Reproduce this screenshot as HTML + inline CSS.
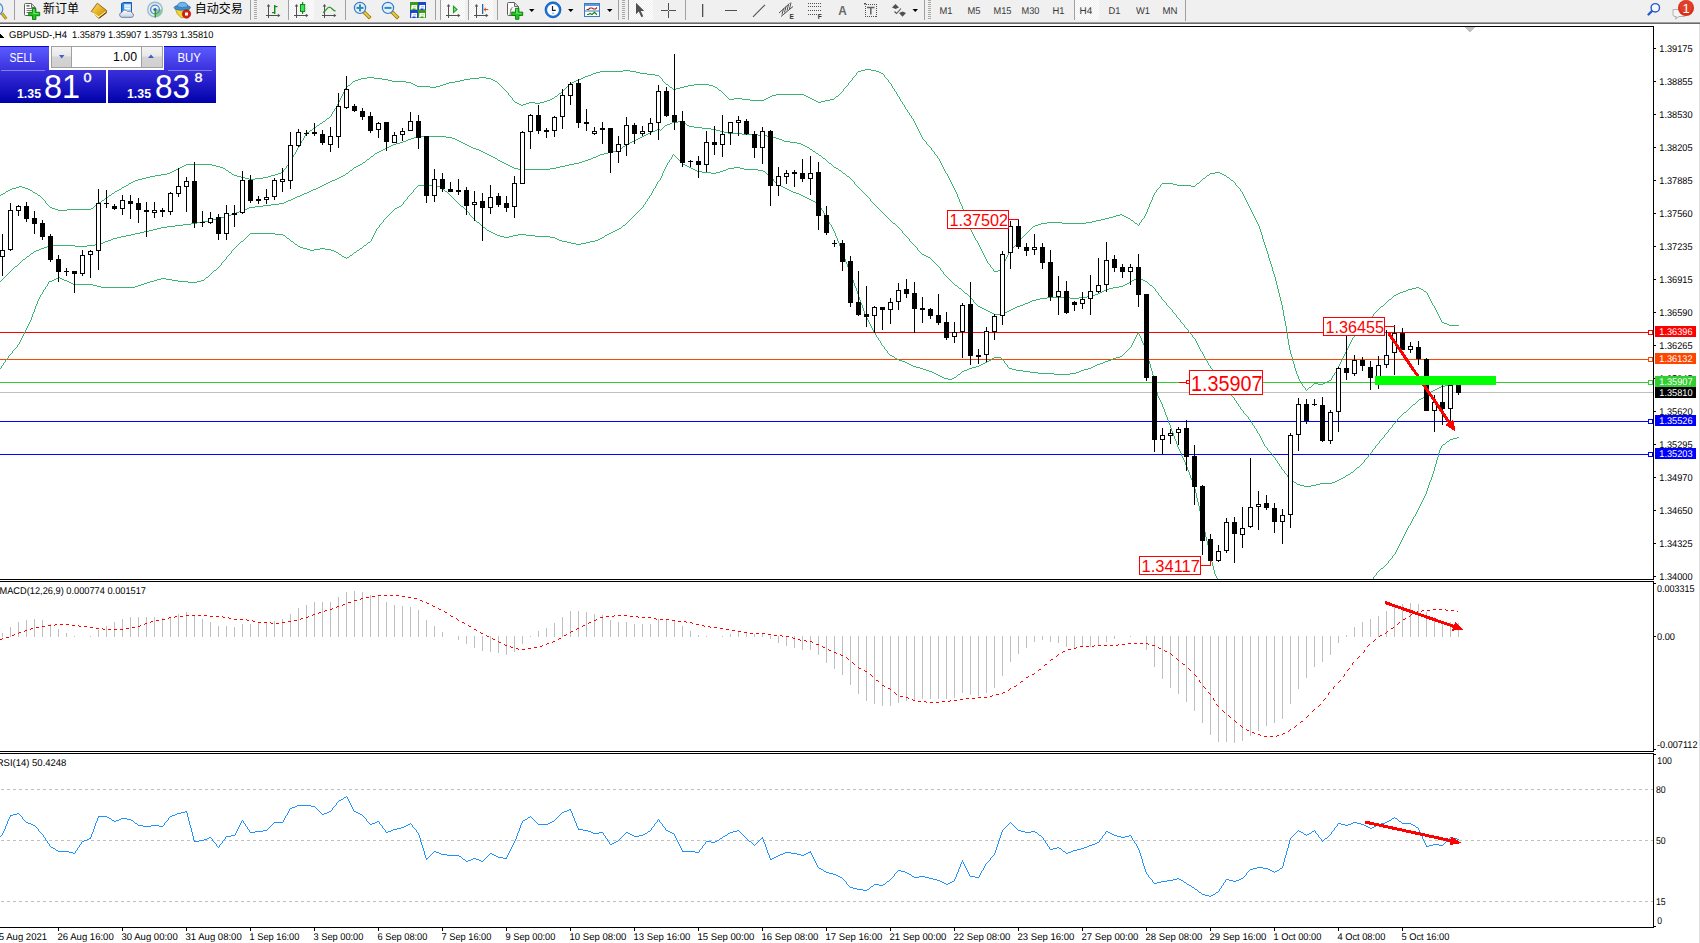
<!DOCTYPE html>
<html><head><meta charset="utf-8"><title>GBPUSD-,H4</title>
<style>
html,body{margin:0;padding:0;background:#fff;}
body{width:1700px;height:943px;overflow:hidden;position:relative;font-family:"Liberation Sans", "Noto Sans CJK SC", sans-serif;}
.abs{position:absolute;display:block;overflow:hidden}
</style></head><body>
<div class="abs" style="left:0;top:0;width:1700px;height:22px;background:#f0f0f0"></div><div class="abs" style="left:0;top:22px;width:1700px;height:1px;background:#a0a0a0"></div><div class="abs" style="left:0;top:23px;width:1700px;height:1px;background:#696969"></div><svg class="abs" style="left:0;top:0" width="1700" height="24" font-family='"Liberation Sans", "Noto Sans CJK SC", sans-serif'><defs><pattern id="chk" width="2" height="2" patternUnits="userSpaceOnUse"><rect width="2" height="2" fill="#f0f0f0"/><rect width="1" height="1" fill="#fff"/><rect x="1" y="1" width="1" height="1" fill="#fff"/></pattern></defs><line x1="2" y1="13.5" x2="6.3" y2="18.8" stroke="#9a7410" stroke-width="2.8"/><line x1="2" y1="13.5" x2="6.3" y2="18.8" stroke="#e0c030" stroke-width="1.4"/><circle cx="-3.5" cy="9" r="6.3" fill="#dcecf8" stroke="#5088c8" stroke-width="1.2"/><rect x="14" y="0" width="1" height="20" fill="#a0a0a0"/><path d="M25.5,3.5h6l4,4v7q0,1 -1,1h-9q-1,0 -1,-1v-10q0,-1 1,-1z" fill="#fdfdfd" stroke="#5e5e5e" stroke-width="1"/><path d="M31.5,3.8v3.7h3.7" fill="#dcdcdc" stroke="#5e5e5e" stroke-width=".9"/><rect x="26.5" y="5" width="3" height="1.6" fill="#6a6a6a"/><rect x="26.5" y="8" width="6" height="1" fill="#7a7a7a"/><rect x="26.5" y="10" width="6" height="1" fill="#7a7a7a"/><rect x="26.5" y="12" width="6" height="1" fill="#7a7a7a"/><path d="M32.5,8.5h3.4v3.8h3.8v3.4h-3.8v3.8h-3.4v-3.8h-3.8v-3.4h3.8z" fill="#22c322" stroke="#0a7a0a" stroke-width=".9"/><path d="M33.1,9.2h1.4v3.8h3.8v1h-5.2z" fill="#8af08a" opacity=".7"/><text x="43" y="13.2" font-size="12" fill="#000">新订单</text><defs><linearGradient id="gold" x1="0" y1="0" x2="1" y2="1"><stop offset="0" stop-color="#fbe27a"/><stop offset=".55" stop-color="#e2ae1c"/><stop offset="1" stop-color="#b87c08"/></linearGradient></defs><path d="M91.3,11.4 L97.3,3.2 L106.7,10.6 L106.4,12.6 L98.9,18.3 Z" fill="url(#gold)" stroke="#8a5c0a" stroke-width=".9"/><path d="M92.2,12.6 L98.8,17 L105.8,11.8" fill="none" stroke="#fff2b8" stroke-width="1.1"/><path d="M99.2,18 L106.4,12.5" fill="none" stroke="#7a4c06" stroke-width="1.2"/><path d="M121.5,3.5 L124,2.5 L131.5,2.5 L131.5,13 L121.5,13 Z" fill="#2a8ae8" stroke="#1a5ab0" stroke-width="1"/><rect x="124" y="4" width="7" height="8" fill="#b8dcfa"/><rect x="125" y="5.5" width="5" height="1" fill="#fff"/><rect x="125" y="8" width="5" height="1" fill="#fff"/><defs><linearGradient id="cl" x1="0" y1="0" x2="0" y2="1"><stop offset="0" stop-color="#ffffff"/><stop offset="1" stop-color="#c4d0e6"/></linearGradient></defs><path d="M121.5,17.3 a2.5,2.5 0 0 1 0.3,-4.9 a3.3,3.3 0 0 1 6,-0.8 a2.8,2.8 0 0 1 4.3,1.5 a2.2,2.2 0 0 1 -0.3,4.2 z" fill="url(#cl)" stroke="#6c7ea8" stroke-width="1"/><circle cx="155" cy="9.5" r="7.3" fill="#e4f0e4" stroke="#9ab8d8" stroke-width="1.4"/><path d="M155,9.5 L155,17 A7.3,7.3 0 0 0 162.3,9.5 Z" fill="#8acc8a"/><circle cx="155" cy="9.5" r="4.4" fill="none" stroke="#5a86d0" stroke-width="1.3"/><circle cx="155" cy="9.5" r="1.6" fill="#2a5ac8"/><rect x="154.6" y="10" width="1.4" height="7.5" fill="#20a020"/><path d="M175.3,8.5 Q176,14 181,17.6 L184,17.6 Q188.5,14 189.5,8.5 Z" fill="#f2d43a" stroke="#b89414" stroke-width=".8"/><ellipse cx="182.3" cy="7.6" rx="8.2" ry="2.6" fill="#3f8fd2" stroke="#2a6aa8" stroke-width=".8"/><path d="M177.3,6.8 Q177.5,2.3 182.5,2.3 Q187.5,2.3 187.8,6.8 Q182.5,8.6 177.3,6.8 z" fill="#6cb6ea" stroke="#2a6aa8" stroke-width=".7"/><circle cx="186.5" cy="14" r="4.2" fill="#d82010" stroke="#a01008" stroke-width=".6"/><rect x="185" y="12.5" width="3" height="3" fill="#fff"/><text x="194.8" y="13.2" font-size="12" fill="#000">自动交易</text><rect x="250" y="0" width="1" height="20" fill="#a0a0a0"/><rect x="254" y="0" width="3" height="1" fill="#a8a8a8"/><rect x="254" y="2" width="3" height="1" fill="#a8a8a8"/><rect x="254" y="4" width="3" height="1" fill="#a8a8a8"/><rect x="254" y="6" width="3" height="1" fill="#a8a8a8"/><rect x="254" y="8" width="3" height="1" fill="#a8a8a8"/><rect x="254" y="10" width="3" height="1" fill="#a8a8a8"/><rect x="254" y="12" width="3" height="1" fill="#a8a8a8"/><rect x="254" y="14" width="3" height="1" fill="#a8a8a8"/><rect x="254" y="16" width="3" height="1" fill="#a8a8a8"/><rect x="254" y="18" width="3" height="1" fill="#a8a8a8"/><rect x="268" y="5" width="1" height="13" fill="#505050"/><polygon points="266.7,6.6 268.5,4 270.3,6.6" fill="#505050"/><rect x="266" y="15" width="13" height="1" fill="#505050"/><polygon points="277.8,13.7 280.4,15.5 277.8,17.3" fill="#505050"/><rect x="274" y="5" width="1.4" height="9" fill="#108a10"/><rect x="275" y="6" width="2.5" height="1.2" fill="#108a10"/><rect x="272" y="12" width="2.5" height="1.2" fill="#108a10"/><rect x="288" y="0" width="1" height="20" fill="#a0a0a0"/><rect x="289" y="0" width="25" height="20" fill="url(#chk)" shape-rendering="crispEdges"/><rect x="296" y="5" width="1" height="13" fill="#505050"/><polygon points="294.7,6.6 296.5,4 298.3,6.6" fill="#505050"/><rect x="294" y="15" width="13" height="1" fill="#505050"/><polygon points="305.8,13.7 308.4,15.5 305.8,17.3" fill="#505050"/><rect x="302" y="2" width="1.2" height="12" fill="#108a10"/><rect x="300.5" y="4.5" width="4.2" height="7" fill="#40e060" stroke="#108a10" stroke-width="1"/><rect x="324" y="5" width="1" height="13" fill="#505050"/><polygon points="322.7,6.6 324.5,4 326.3,6.6" fill="#505050"/><rect x="322" y="15" width="13" height="1" fill="#505050"/><polygon points="333.8,13.7 336.4,15.5 333.8,17.3" fill="#505050"/><path d="M323,12.6 C326,11 327,7.2 329.5,7.2 C331.5,7.2 332.5,10.5 335.5,11" fill="none" stroke="#2a9a2a" stroke-width="1.3"/><rect x="345" y="0" width="1" height="20" fill="#a0a0a0"/><line x1="364" y1="11.9" x2="369" y2="16.9" stroke="#9a7410" stroke-width="3.6" stroke-linecap="square"/><line x1="364" y1="11.9" x2="369" y2="16.9" stroke="#e8cc30" stroke-width="2" stroke-linecap="square"/><circle cx="360" cy="7.9" r="5.6" fill="#dcf2fc" stroke="#3878c8" stroke-width="1.2"/><rect x="356.5" y="6.9" width="7" height="2" fill="#3a86b4"/><rect x="359" y="4.4" width="2" height="7" fill="#3a86b4"/><line x1="392" y1="11.9" x2="397" y2="16.9" stroke="#9a7410" stroke-width="3.6" stroke-linecap="square"/><line x1="392" y1="11.9" x2="397" y2="16.9" stroke="#e8cc30" stroke-width="2" stroke-linecap="square"/><circle cx="388" cy="7.9" r="5.6" fill="#dcf2fc" stroke="#3878c8" stroke-width="1.2"/><rect x="384.5" y="6.9" width="7" height="2" fill="#3a86b4"/><rect x="410" y="2" width="8" height="8" fill="#3a9a1a"/><path d="M411.5,5h5.5v4.5h-1.5v-1h-3v1h-1.5z" fill="#fff"/><rect x="413" y="6.3" width="3" height="1" fill="#3a9a1a" opacity=".45"/><rect x="418" y="2" width="8" height="8" fill="#1a48c8"/><path d="M419.5,5h5.5v4.5h-1.5v-1h-3v1h-1.5z" fill="#fff"/><rect x="421" y="6.3" width="3" height="1" fill="#1a48c8" opacity=".45"/><rect x="410" y="10" width="8" height="8" fill="#1a48c8"/><path d="M411.5,13h5.5v4.5h-1.5v-1h-3v1h-1.5z" fill="#fff"/><rect x="413" y="14.3" width="3" height="1" fill="#1a48c8" opacity=".45"/><rect x="418" y="10" width="8" height="8" fill="#3a9a1a"/><path d="M419.5,13h5.5v4.5h-1.5v-1h-3v1h-1.5z" fill="#fff"/><rect x="421" y="14.3" width="3" height="1" fill="#3a9a1a" opacity=".45"/><rect x="435" y="0" width="1" height="20" fill="#a0a0a0"/><rect x="440" y="0" width="1" height="20" fill="#a0a0a0"/><rect x="441" y="0" width="24" height="20" fill="url(#chk)" shape-rendering="crispEdges"/><rect x="448" y="5" width="1" height="13" fill="#505050"/><polygon points="446.7,6.6 448.5,4 450.3,6.6" fill="#505050"/><rect x="446" y="15" width="13" height="1" fill="#505050"/><polygon points="457.8,13.7 460.4,15.5 457.8,17.3" fill="#505050"/><polygon points="453.5,6.3 453.5,12.6 457,9.5" fill="#90e090" stroke="#18a018" stroke-width="1.1"/><rect x="468" y="0" width="1" height="20" fill="#a0a0a0"/><rect x="469" y="0" width="24" height="20" fill="url(#chk)" shape-rendering="crispEdges"/><rect x="476" y="5" width="1" height="13" fill="#505050"/><polygon points="474.7,6.6 476.5,4 478.3,6.6" fill="#505050"/><rect x="474" y="15" width="13" height="1" fill="#505050"/><polygon points="485.8,13.7 488.4,15.5 485.8,17.3" fill="#505050"/><rect x="482" y="4" width="1.3" height="10" fill="#1a6ab0"/><polygon points="483.5,9.5 486,7.3 485.7,9 488.3,9 488.3,10 485.7,10 486,11.7" fill="#e05010"/><rect x="497" y="0" width="1" height="20" fill="#a0a0a0"/><path d="M508.5,2.5h6l4,4v8q0,1 -1,1h-9q-1,0 -1,-1v-11q0,-1 1,-1z" fill="#fdfdfd" stroke="#5e5e5e" stroke-width="1"/><path d="M514.5,2.8v3.7h3.7" fill="#dcdcdc" stroke="#5e5e5e" stroke-width=".9"/><text x="509.5" y="12.5" font-size="9" font-style="italic" font-family="Liberation Serif, serif" fill="#5a4a3a">f</text><path d="M515.5,8.3h3.4v3.8h3.8v3.4h-3.8v3.8h-3.4v-3.8h-3.8v-3.4h3.8z" fill="#22c322" stroke="#0a7a0a" stroke-width=".9"/><path d="M516.1,9.0h1.4v3.8h3.8v1h-5.2z" fill="#8af08a" opacity=".7"/><polygon points="529,9 534.5,9 531.75,12" fill="#000"/><circle cx="553" cy="9.8" r="7" fill="#fff" stroke="#1a74d8" stroke-width="2.2"/><circle cx="553" cy="9.8" r="8" fill="none" stroke="#0a4aa8" stroke-width=".6"/><path d="M552.5,6 v4.3 h3.2" fill="none" stroke="#202020" stroke-width="1.2"/><circle cx="553" cy="13.3" r=".8" fill="#4aa0f0"/><polygon points="568,9 573.5,9 570.75,12" fill="#000"/><rect x="584.5" y="3.5" width="15" height="13" fill="#fff" stroke="#3a78c8" stroke-width="1"/><rect x="585" y="4" width="14" height="2" fill="#5a98e0"/><rect x="585" y="10.5" width="14" height="1" fill="#3a78c8"/><path d="M586.5,9.5 h2 l1.5,-1.5 h2 l1.5,1 h2 l1.5,-1.5" fill="none" stroke="#a02010" stroke-width="1.2"/><path d="M587,14.5 h1.5 l1.5,-1 l2,1 l2.5,-2.2 l2.5,2.4" fill="none" stroke="#108a10" stroke-width="1.2"/><polygon points="607,9 612.5,9 609.75,12" fill="#000"/><rect x="618" y="0" width="1" height="20" fill="#a0a0a0"/><rect x="622" y="0" width="3" height="1" fill="#a8a8a8"/><rect x="622" y="2" width="3" height="1" fill="#a8a8a8"/><rect x="622" y="4" width="3" height="1" fill="#a8a8a8"/><rect x="622" y="6" width="3" height="1" fill="#a8a8a8"/><rect x="622" y="8" width="3" height="1" fill="#a8a8a8"/><rect x="622" y="10" width="3" height="1" fill="#a8a8a8"/><rect x="622" y="12" width="3" height="1" fill="#a8a8a8"/><rect x="622" y="14" width="3" height="1" fill="#a8a8a8"/><rect x="622" y="16" width="3" height="1" fill="#a8a8a8"/><rect x="622" y="18" width="3" height="1" fill="#a8a8a8"/><rect x="628" y="0" width="1" height="20" fill="#a0a0a0"/><rect x="629" y="0" width="24" height="20" fill="url(#chk)" shape-rendering="crispEdges"/><polygon points="636,2.8 636,14.2 638.8,11.6 641.4,17.2 643.3,16.3 640.7,10.9 644.3,10.9" fill="#505050"/><rect x="661" y="10" width="7" height="1" fill="#505050"/><rect x="669" y="10" width="7" height="1" fill="#505050"/><rect x="668" y="3" width="1" height="7" fill="#505050"/><rect x="668" y="11" width="1" height="7" fill="#505050"/><rect x="685" y="0" width="1" height="20" fill="#a0a0a0"/><rect x="702" y="4" width="1.3" height="13" fill="#505050"/><rect x="725" y="10" width="12" height="1" fill="#505050"/><line x1="753" y1="16.8" x2="765" y2="4.8" stroke="#505050" stroke-width="1.1"/><path d="M779,13 L789.5,3.5 M781,16.5 L793,6.5" fill="none" stroke="#505050" stroke-width="1"/><path d="M782,14.5 L783.5,8.5 M784.5,12.5 L786,6.5 M787,10.5 L788.5,4.5 M789.5,9 L791,2.5" fill="none" stroke="#505050" stroke-width="1"/><text x="789.5" y="18.6" font-size="6.5" font-weight="bold" fill="#303030">E</text><line x1="808" y1="3.5" x2="821" y2="3.5" stroke="#505050" stroke-width="1" stroke-dasharray="1 1"/><line x1="808" y1="6.5" x2="821" y2="6.5" stroke="#505050" stroke-width="1" stroke-dasharray="1 1"/><line x1="808" y1="10.5" x2="821" y2="10.5" stroke="#505050" stroke-width="1" stroke-dasharray="1 1"/><line x1="808" y1="14.5" x2="817" y2="14.5" stroke="#505050" stroke-width="1" stroke-dasharray="1 1"/><text x="817.8" y="18.6" font-size="6.5" font-weight="bold" fill="#303030">F</text><text x="838.3" y="15" font-size="12.5" font-weight="bold" fill="#686868" textLength="8.5" lengthAdjust="spacingAndGlyphs">A</text><rect x="865.5" y="4.5" width="11" height="12" fill="none" stroke="#505050" stroke-width="1" stroke-dasharray="1 1" shape-rendering="crispEdges"/><rect x="864" y="3" width="2" height="1.5" fill="#505050"/><path d="M867,7.5h7.5 M870.8,7.5v7" stroke="#606060" stroke-width="1.5" fill="none"/><polygon points="892,7.5 895.5,4 899,7.5 895.5,9" fill="#505050"/><polygon points="899,13 902.5,11.5 906,13 902.5,16.8" fill="#505050"/><path d="M894.5,11.5 L896.5,13.5 L901,8.5" fill="none" stroke="#505050" stroke-width="1.1"/><polygon points="912.5,9 918.0,9 915.25,12" fill="#000"/><rect x="924" y="0" width="1" height="20" fill="#a0a0a0"/><rect x="928" y="0" width="3" height="1" fill="#a8a8a8"/><rect x="928" y="2" width="3" height="1" fill="#a8a8a8"/><rect x="928" y="4" width="3" height="1" fill="#a8a8a8"/><rect x="928" y="6" width="3" height="1" fill="#a8a8a8"/><rect x="928" y="8" width="3" height="1" fill="#a8a8a8"/><rect x="928" y="10" width="3" height="1" fill="#a8a8a8"/><rect x="928" y="12" width="3" height="1" fill="#a8a8a8"/><rect x="928" y="14" width="3" height="1" fill="#a8a8a8"/><rect x="928" y="16" width="3" height="1" fill="#a8a8a8"/><rect x="928" y="18" width="3" height="1" fill="#a8a8a8"/><rect x="1075" y="0" width="24" height="20" fill="url(#chk)" shape-rendering="crispEdges"/><rect x="1074" y="0" width="1" height="20" fill="#a0a0a0"/><text x="939.5" y="13.6" font-size="9.8" text-rendering="geometricPrecision" fill="#383838" textLength="13" lengthAdjust="spacingAndGlyphs">M1</text><text x="967.5" y="13.6" font-size="9.8" text-rendering="geometricPrecision" fill="#383838" textLength="13" lengthAdjust="spacingAndGlyphs">M5</text><text x="993.5" y="13.6" font-size="9.8" text-rendering="geometricPrecision" fill="#383838" textLength="18" lengthAdjust="spacingAndGlyphs">M15</text><text x="1021.5" y="13.6" font-size="9.8" text-rendering="geometricPrecision" fill="#383838" textLength="18" lengthAdjust="spacingAndGlyphs">M30</text><text x="1052.5" y="13.6" font-size="9.8" text-rendering="geometricPrecision" fill="#383838" textLength="12" lengthAdjust="spacingAndGlyphs">H1</text><text x="1079.5" y="13.6" font-size="9.8" text-rendering="geometricPrecision" fill="#383838" textLength="12.7" lengthAdjust="spacingAndGlyphs">H4</text><text x="1108.5" y="13.6" font-size="9.8" text-rendering="geometricPrecision" fill="#383838" textLength="12" lengthAdjust="spacingAndGlyphs">D1</text><text x="1136" y="13.6" font-size="9.8" text-rendering="geometricPrecision" fill="#383838" textLength="14" lengthAdjust="spacingAndGlyphs">W1</text><text x="1162.5" y="13.6" font-size="9.8" text-rendering="geometricPrecision" fill="#383838" textLength="15" lengthAdjust="spacingAndGlyphs">MN</text><rect x="1185" y="0" width="1" height="21" fill="#a0a0a0"/><line x1="1648.5" y1="14.5" x2="1652" y2="11" stroke="#2a5ac8" stroke-width="2.4" stroke-linecap="round"/><circle cx="1655.3" cy="7.8" r="4.2" fill="#f4f8fc" stroke="#2a5ac8" stroke-width="1.4"/><path d="M1673,9.5 h11 a2,2 0 0 1 2,2 v3 a2,2 0 0 1 -2,2 h-5 l-3.5,2.5 l.8,-2.5 h-1.3 a2,2 0 0 1 -2,-2 z" fill="#f4f4f4" stroke="#b0b0b0" stroke-width="1"/><circle cx="1686" cy="8" r="8" fill="#d83018"/><circle cx="1686" cy="6.5" r="6.5" fill="#e85038" opacity=".5"/><text x="1686" y="12.8" font-size="13" fill="#fff" text-anchor="middle">1</text></svg>
<svg class="abs" style="left:0;top:27px" width="1653" height="552" viewBox="0 27 1653 552" shape-rendering="crispEdges"><rect x="0" y="332" width="1653" height="1" fill="#ff0000"/><rect x="0" y="359" width="1653" height="1" fill="#ff4500"/><rect x="0" y="382" width="1653" height="1" fill="#32cd32"/><rect x="0" y="392" width="1653" height="1" fill="#c0c0c0"/><rect x="0" y="421" width="1653" height="1" fill="#0000ff"/><rect x="0" y="454" width="1653" height="1" fill="#0000ff"/><path d="M361 78h6v1h-6zM374 78h8v1h-8zM470 78h9v1h-9zM486 78h5v1h-5zM581 78h2v1h-2zM661 78h1v1h-1zM852 78h1v2h-1zM886 78h1v1h-1zM1288 339h1v6h-1zM1351 340h1v2h-1zM186 164h26v1h-26zM288 164h1v1h-1zM941 163h1v2h-1zM981 249h1v2h-1zM1011 249h1v2h-1zM1266 248h1v3h-1zM351 83h1v1h-1zM411 83h2v1h-2zM446 83h3v1h-3zM498 83h1v1h-1zM570 83h2v1h-2zM665 83h1v1h-1zM848 83h1v2h-1zM890 83h1v1h-1zM3 193h2v1h-2zM35 193h2v1h-2zM112 193h2v1h-2zM956 192h1v2h-1zM1154 193h1v2h-1zM1242 192h1v2h-1zM1 194h2v1h-2zM37 194h1v1h-1zM111 194h1v1h-1zM957 194h1v3h-1zM1243 194h1v2h-1zM1276 281h1v4h-1zM1303 386h1v1h-1zM1311 386h1v1h-1zM161 174h6v1h-6zM232 174h2v1h-2zM275 174h3v1h-3zM947 174h1v2h-1zM1209 174h1v1h-1zM1222 174h2v1h-2zM1296 371h1v3h-1zM1334 373h1v2h-1zM309 131h1v1h-1zM919 131h1v2h-1zM341 96h1v2h-1zM510 96h1v1h-1zM555 96h2v1h-2zM726 96h1v1h-1zM770 96h2v1h-2zM806 96h2v1h-2zM836 96h2v1h-2zM898 96h1v1h-1zM1282 305h1v5h-1zM1381 306h2v1h-2zM1434 306h1v2h-1zM1279 293h1v4h-1zM1398 293h2v1h-2zM1427 293h1v2h-1zM970 227h1v3h-1zM1031 228h1v1h-1zM1259 226h1v3h-1zM10 189h2v1h-2zM28 189h2v1h-2zM119 189h2v1h-2zM954 188h1v2h-1zM1157 189h1v1h-1zM1240 189h1v2h-1zM340 98h1v2h-1zM512 98h1v2h-1zM550 99h2v1h-2zM729 99h5v1h-5zM742 99h8v1h-8zM764 99h2v1h-2zM812 99h2v1h-2zM830 99h4v1h-4zM900 99h1v2h-1zM968 222h1v3h-1zM1047 222h15v1h-15zM1086 222h6v1h-6zM1134 222h1v1h-1zM1140 222h1v1h-1zM1257 222h1v2h-1zM1299 379h1v2h-1zM1329 380h2v1h-2zM623 70h7v1h-7zM861 70h4v1h-4zM871 70h5v1h-5zM343 92h1v2h-1zM507 92h1v1h-1zM561 92h1v1h-1zM722 92h1v1h-1zM841 92h1v1h-1zM896 92h1v2h-1zM367 77h7v1h-7zM479 77h7v1h-7zM583 77h2v1h-2zM660 77h1v1h-1zM853 77h1v1h-1zM885 77h1v1h-1zM293 155h1v2h-1zM937 156h1v2h-1zM338 102h1v2h-1zM515 102h2v1h-2zM529 102h6v1h-6zM540 102h4v1h-4zM818 102h3v1h-3zM902 102h1v2h-1zM350 84h1v1h-1zM413 84h2v1h-2zM443 84h3v1h-3zM499 84h1v1h-1zM569 84h1v1h-1zM666 84h2v1h-2zM694 84h15v1h-15zM891 84h1v2h-1zM1300 381h1v2h-1zM1325 382h2v1h-2zM339 100h1v2h-1zM513 100h1v1h-1zM547 100h3v1h-3zM750 100h14v1h-14zM814 100h2v1h-2zM825 100h5v1h-5zM1283 310h1v6h-1zM1373 314h1v2h-1zM1438 314h1v2h-1zM600 71h23v1h-23zM630 71h6v1h-6zM858 71h3v1h-3zM876 71h3v1h-3zM355 80h3v1h-3zM388 80h4v1h-4zM460 80h4v1h-4zM493 80h2v1h-2zM576 80h3v1h-3zM662 79h1v2h-1zM851 80h1v1h-1zM888 80h1v2h-1zM347 86h1v1h-1zM417 86h13v1h-13zM436 86h4v1h-4zM501 86h1v1h-1zM567 86h1v1h-1zM669 86h1v1h-1zM684 86h4v1h-4zM713 86h2v1h-2zM846 86h1v1h-1zM892 86h1v2h-1zM552 98h2v1h-2zM728 98h1v1h-1zM734 98h8v1h-8zM766 98h2v1h-2zM810 98h2v1h-2zM834 98h1v1h-1zM899 97h1v2h-1zM337 104h1v2h-1zM519 104h2v1h-2zM523 104h3v1h-3zM903 104h1v1h-1zM142 178h4v1h-4zM245 178h4v1h-4zM255 178h8v1h-8zM949 178h1v2h-1zM1203 178h2v1h-2zM1229 178h1v1h-1zM353 81h2v1h-2zM392 81h14v1h-14zM455 81h5v1h-5zM495 81h2v1h-2zM574 81h2v1h-2zM663 81h1v1h-1zM850 81h1v1h-1zM991 267h1v1h-1zM1001 267h1v2h-1zM1272 267h1v4h-1zM966 217h1v2h-1zM1105 218h4v1h-4zM1128 218h2v1h-2zM1143 218h1v1h-1zM1255 218h1v2h-1zM591 74h2v1h-2zM647 74h8v1h-8zM856 73h1v2h-1zM883 74h1v1h-1zM1287 332h1v7h-1zM1354 336h1v1h-1zM588 75h3v1h-3zM655 75h4v1h-4zM855 75h1v1h-1zM884 75h1v2h-1zM965 214h1v3h-1zM1116 215h4v1h-4zM1122 215h2v1h-2zM1145 214h1v2h-1zM1253 214h1v2h-1zM1275 277h1v4h-1zM1280 297h1v4h-1zM1389 299h2v1h-2zM1430 299h1v2h-1zM45 201h1v2h-1zM99 202h2v1h-2zM960 202h1v2h-1zM1150 202h1v2h-1zM1247 202h1v2h-1zM329 117h1v1h-1zM911 116h1v2h-1zM988 263h1v1h-1zM1003 263h1v2h-1zM1270 261h1v3h-1zM1038 224h3v1h-3zM1137 224h1v1h-1zM1139 223h1v2h-1zM1258 224h1v2h-1zM1375 312h1v1h-1zM1437 312h1v2h-1zM508 93h1v2h-1zM559 93h2v1h-2zM723 93h1v1h-1zM840 93h1v1h-1zM1285 321h1v5h-1zM1363 325h1v1h-1zM1449 325h10v1h-10zM1113 216h3v1h-3zM1124 216h2v1h-2zM1144 216h1v2h-1zM1254 216h1v2h-1zM993 269h1v2h-1zM998 270h3v1h-3zM1350 342h1v2h-1zM1335 372h1v1h-1zM42 198h1v1h-1zM105 198h2v1h-2zM958 197h1v2h-1zM1152 197h1v3h-1zM1245 198h1v2h-1zM128 184h1v1h-1zM952 184h1v2h-1zM1161 184h1v1h-1zM1173 184h4v1h-4zM1196 184h1v1h-1zM1235 183h1v2h-1zM315 127h1v1h-1zM917 127h1v2h-1zM52 208h3v1h-3zM91 208h2v1h-2zM962 206h1v3h-1zM1148 207h1v2h-1zM1250 208h1v2h-1zM1297 374h1v2h-1zM1333 375h1v1h-1zM1380 307h1v1h-1zM1278 289h1v4h-1zM1408 289h4v1h-4zM1421 289h2v1h-2zM348 85h2v1h-2zM415 85h2v1h-2zM440 85h3v1h-3zM500 85h1v1h-1zM568 85h1v1h-1zM668 85h1v1h-1zM688 85h6v1h-6zM709 85h4v1h-4zM847 85h1v1h-1zM8 190h2v1h-2zM30 190h2v1h-2zM117 190h2v1h-2zM955 190h1v2h-1zM1156 190h1v2h-1zM967 219h1v3h-1zM1101 219h4v1h-4zM1130 219h1v1h-1zM1142 219h1v1h-1zM184 165h2v1h-2zM212 165h4v1h-4zM287 165h1v1h-1zM942 165h1v2h-1zM1290 350h1v4h-1zM1346 350h1v2h-1zM1403 291h3v1h-3zM1424 291h2v1h-2zM1289 345h1v5h-1zM1348 346h1v2h-1zM12 188h4v1h-4zM25 188h3v1h-3zM121 188h1v1h-1zM1158 188h1v1h-1zM1239 188h1v1h-1zM41 197h1v1h-1zM107 197h1v1h-1zM1244 196h1v2h-1zM345 88h1v2h-1zM503 88h1v1h-1zM565 88h1v1h-1zM672 88h1v1h-1zM676 88h4v1h-4zM717 88h1v1h-1zM844 88h1v1h-1zM893 88h1v1h-1zM1400 292h3v1h-3zM1426 292h1v1h-1zM55 209h3v1h-3zM67 209h24v1h-24zM963 209h1v2h-1zM1147 209h1v3h-1zM358 79h3v1h-3zM382 79h6v1h-6zM464 79h6v1h-6zM491 79h2v1h-2zM579 79h2v1h-2zM887 79h1v1h-1zM521 105h2v1h-2zM904 105h1v2h-1zM979 245h1v2h-1zM1014 246h1v1h-1zM1265 245h1v3h-1zM990 265h1v2h-1zM1002 265h1v2h-1zM1271 264h1v3h-1zM146 177h4v1h-4zM241 177h4v1h-4zM263 177h5v1h-5zM948 176h1v2h-1zM1205 177h1v1h-1zM1227 177h2v1h-2zM593 73h3v1h-3zM640 73h7v1h-7zM881 73h2v1h-2zM129 183h2v1h-2zM951 182h1v2h-1zM1162 183h11v1h-11zM1197 183h2v1h-2zM174 170h2v1h-2zM226 170h2v1h-2zM283 170h1v2h-1zM944 169h1v2h-1zM596 72h4v1h-4zM636 72h4v1h-4zM857 72h1v1h-1zM879 72h2v1h-2zM150 176h5v1h-5zM237 176h4v1h-4zM268 176h3v1h-3zM1206 176h1v1h-1zM1226 176h1v1h-1zM1305 388h1v2h-1zM1308 388h1v1h-1zM0 195h1v1h-1zM38 195h2v1h-2zM109 195h2v1h-2zM1153 195h1v2h-1zM936 155h1v1h-1zM978 243h1v2h-1zM1016 243h1v2h-1zM1264 242h1v3h-1zM1345 352h1v2h-1zM16 187h3v1h-3zM22 187h3v1h-3zM122 187h2v1h-2zM953 186h1v2h-1zM1159 187h1v1h-1zM1238 187h1v1h-1zM5 192h1v1h-1zM33 192h2v1h-2zM114 192h1v1h-1zM1155 192h1v1h-1zM585 76h3v1h-3zM659 76h1v1h-1zM854 76h1v1h-1zM983 253h1v2h-1zM1008 253h1v2h-1zM1267 251h1v3h-1zM289 162h1v2h-1zM940 161h1v2h-1zM1268 254h1v4h-1zM1394 295h2v1h-2zM1428 295h1v2h-1zM167 173h3v1h-3zM231 173h1v1h-1zM278 173h3v1h-3zM946 173h1v1h-1zM1210 173h5v1h-5zM1220 173h2v1h-2zM1292 357h1v4h-1zM1341 360h1v2h-1zM972 232h1v2h-1zM1026 233h1v1h-1zM1261 232h1v3h-1zM975 238h1v2h-1zM1021 238h1v1h-1zM1262 235h1v4h-1zM1284 316h1v5h-1zM1369 319h1v1h-1zM1440 318h1v2h-1zM336 106h1v2h-1zM905 107h1v2h-1zM170 172h2v1h-2zM229 172h2v1h-2zM281 172h2v1h-2zM945 171h1v2h-1zM1215 172h5v1h-5zM44 200h1v1h-1zM102 200h2v1h-2zM959 199h1v3h-1zM1151 200h1v2h-1zM1246 200h1v2h-1zM1000 269h1v1h-1zM101 201h1v1h-1zM1041 223h6v1h-6zM1062 223h24v1h-24zM1135 223h2v1h-2zM511 97h1v1h-1zM554 97h1v1h-1zM727 97h1v1h-1zM768 97h2v1h-2zM808 97h2v1h-2zM835 97h1v1h-1zM304 136h1v2h-1zM921 135h1v2h-1zM19 186h3v1h-3zM124 186h2v1h-2zM1160 185h1v2h-1zM1191 186h4v1h-4zM1237 186h1v1h-1zM135 180h3v1h-3zM950 180h1v2h-1zM1201 180h1v1h-1zM1231 180h2v1h-2zM296 150h1v2h-1zM932 150h1v1h-1zM352 82h1v1h-1zM406 82h5v1h-5zM449 82h6v1h-6zM497 82h1v1h-1zM572 82h2v1h-2zM664 82h1v1h-1zM849 82h1v1h-1zM889 82h1v1h-1zM131 182h2v1h-2zM1199 182h1v1h-1zM1234 182h1v1h-1zM964 211h1v3h-1zM1146 212h1v2h-1zM1252 212h1v2h-1zM346 87h1v1h-1zM430 87h6v1h-6zM502 87h1v1h-1zM566 87h1v1h-1zM670 87h2v1h-2zM680 87h4v1h-4zM715 87h2v1h-2zM845 87h1v1h-1zM1120 214h2v1h-2zM342 94h1v2h-1zM558 94h1v1h-1zM724 94h1v1h-1zM776 94h28v1h-28zM839 94h1v1h-1zM897 94h1v2h-1zM46 203h1v1h-1zM98 203h1v1h-1zM1357 332h1v1h-1zM1371 317h1v1h-1zM1439 316h1v2h-1zM976 240h1v1h-1zM1019 240h1v1h-1zM1263 239h1v3h-1zM155 175h6v1h-6zM234 175h3v1h-3zM271 175h4v1h-4zM1207 175h2v1h-2zM1224 175h2v1h-2zM984 255h1v2h-1zM1007 255h1v2h-1zM344 90h1v2h-1zM506 91h1v1h-1zM562 91h1v1h-1zM721 91h1v1h-1zM842 91h1v1h-1zM895 91h1v1h-1zM974 236h1v2h-1zM1023 236h1v1h-1zM1096 220h5v1h-5zM1131 220h2v1h-2zM1141 220h1v2h-1zM1256 220h1v2h-1zM514 101h1v1h-1zM544 101h3v1h-3zM816 101h2v1h-2zM821 101h4v1h-4zM901 101h1v1h-1zM973 234h1v2h-1zM1024 235h1v1h-1zM1030 229h1v1h-1zM1260 229h1v3h-1zM1376 311h1v1h-1zM1436 310h1v2h-1zM1293 361h1v3h-1zM1336 370h1v2h-1zM1109 217h4v1h-4zM1126 217h2v1h-2zM180 167h2v1h-2zM220 167h3v1h-3zM286 166h1v2h-1zM943 167h1v2h-1zM994 271h4v1h-4zM1273 271h1v3h-1zM303 138h1v2h-1zM923 139h1v1h-1zM176 169h2v1h-2zM225 169h1v1h-1zM284 169h1v1h-1zM1349 344h1v2h-1zM517 103h2v1h-2zM526 103h3v1h-3zM535 103h5v1h-5zM295 152h1v2h-1zM934 152h1v2h-1zM985 257h1v2h-1zM1006 257h1v2h-1zM1269 258h1v3h-1zM986 259h1v2h-1zM1005 259h1v2h-1zM126 185h2v1h-2zM1177 185h14v1h-14zM1195 185h1v1h-1zM1236 185h1v1h-1zM58 210h9v1h-9zM1251 210h1v2h-1zM1277 285h1v4h-1zM1412 288h4v1h-4zM1419 288h2v1h-2zM504 89h1v1h-1zM564 89h1v1h-1zM673 89h3v1h-3zM718 89h1v1h-1zM843 89h1v2h-1zM894 89h1v2h-1zM1388 300h1v1h-1zM313 128h2v1h-2zM1281 301h1v4h-1zM1385 303h1v1h-1zM1432 303h1v2h-1zM977 241h1v2h-1zM1017 242h1v1h-1zM6 191h2v1h-2zM32 191h1v1h-1zM115 191h2v1h-2zM1241 191h1v1h-1zM1378 309h1v1h-1zM1435 308h1v2h-1zM1396 294h2v1h-2zM1027 232h1v1h-1zM43 199h1v1h-1zM104 199h1v1h-1zM1342 358h1v2h-1zM969 225h1v2h-1zM1035 225h3v1h-3zM1138 225h1v1h-1zM49 206h1v1h-1zM94 206h1v1h-1zM1149 204h1v3h-1zM1249 206h1v2h-1zM305 134h1v2h-1zM1356 333h1v1h-1zM505 90h1v1h-1zM563 90h1v1h-1zM719 90h2v1h-2zM1302 384h1v2h-1zM1313 384h1v1h-1zM1318 384h5v1h-5zM1298 376h1v3h-1zM1332 376h1v2h-1zM1372 316h1v1h-1zM322 122h1v1h-1zM914 121h1v2h-1zM1020 239h1v1h-1zM980 247h1v2h-1zM1012 248h1v1h-1zM182 166h2v1h-2zM216 166h4v1h-4zM1327 381h2v1h-2zM1286 326h1v6h-1zM1360 328h1v2h-1zM1301 383h1v1h-1zM1314 383h4v1h-4zM1323 383h2v1h-2zM1377 310h1v1h-1zM1355 334h1v2h-1zM172 171h2v1h-2zM228 171h1v1h-1zM865 69h6v1h-6zM301 141h1v2h-1zM926 142h1v2h-1zM1366 322h1v1h-1zM1442 322h2v1h-2zM1416 287h3v1h-3zM316 126h1v1h-1zM916 125h1v2h-1zM297 148h1v2h-1zM931 148h1v2h-1zM133 181h2v1h-2zM1200 181h1v1h-1zM1233 181h1v1h-1zM292 157h1v2h-1zM938 158h1v1h-1zM1092 221h4v1h-4zM1133 221h1v1h-1zM1374 313h1v1h-1zM1340 362h1v2h-1zM300 143h1v2h-1zM927 144h1v1h-1zM989 264h1v1h-1zM1022 237h1v1h-1zM332 112h1v2h-1zM908 112h1v1h-1zM327 118h2v1h-2zM912 118h1v1h-1zM933 151h1v1h-1zM40 196h1v1h-1zM108 196h1v1h-1zM1379 308h1v1h-1zM1343 356h1v2h-1zM1393 296h1v1h-1zM334 109h1v2h-1zM906 109h1v1h-1zM1306 390h1v1h-1zM1015 245h1v1h-1zM50 207h2v1h-2zM93 207h1v1h-1zM330 116h1v1h-1zM290 161h1v1h-1zM509 95h1v1h-1zM557 95h1v1h-1zM725 95h1v1h-1zM772 95h4v1h-4zM804 95h2v1h-2zM838 95h1v1h-1zM1367 321h1v1h-1zM1441 320h1v2h-1zM323 121h2v1h-2zM138 179h4v1h-4zM249 179h6v1h-6zM1202 179h1v1h-1zM1230 179h1v1h-1zM333 111h1v1h-1zM907 110h1v2h-1zM1406 290h2v1h-2zM1423 290h1v1h-1zM920 133h1v2h-1zM1352 338h1v2h-1zM925 141h1v1h-1zM1274 274h1v3h-1zM1312 385h1v1h-1zM1295 368h1v3h-1zM971 230h1v2h-1zM1028 231h1v1h-1zM178 168h2v1h-2zM223 168h2v1h-2zM285 168h1v1h-1zM1018 241h1v1h-1zM1359 330h1v1h-1zM1386 302h1v1h-1zM1431 301h1v2h-1zM47 204h1v1h-1zM97 204h1v1h-1zM961 204h1v2h-1zM1248 204h1v2h-1zM48 205h1v1h-1zM95 205h2v1h-2zM1392 297h1v1h-1zM1429 297h1v2h-1zM1331 378h1v2h-1zM1362 326h1v1h-1zM1033 226h2v1h-2zM335 108h1v1h-1zM291 159h1v2h-1zM939 159h1v2h-1zM1347 348h1v2h-1zM992 268h1v1h-1zM987 261h1v2h-1zM1004 261h1v2h-1zM922 137h1v2h-1zM1013 247h1v1h-1zM306 133h1v1h-1zM302 140h1v1h-1zM924 140h1v1h-1zM1353 337h1v1h-1zM1337 368h1v2h-1zM1029 230h1v1h-1zM1365 323h1v1h-1zM1444 323h3v1h-3zM1304 387h1v1h-1zM1309 387h2v1h-2zM1370 318h1v1h-1zM982 251h1v2h-1zM1009 252h1v1h-1zM1384 304h1v1h-1zM1391 298h1v1h-1zM1383 305h1v1h-1zM1433 305h1v1h-1zM312 129h1v1h-1zM918 129h1v2h-1zM1364 324h1v1h-1zM1447 324h2v1h-2zM320 123h2v1h-2zM915 123h1v2h-1zM1294 364h1v4h-1zM1339 364h1v2h-1zM325 120h1v1h-1zM913 119h1v2h-1zM317 125h2v1h-2zM1387 301h1v1h-1zM326 119h1v1h-1zM1291 354h1v3h-1zM1344 354h1v2h-1zM319 124h1v1h-1zM1361 327h1v1h-1zM298 147h1v1h-1zM930 147h1v1h-1zM1307 389h1v1h-1zM1010 251h1v1h-1zM1358 331h1v1h-1zM310 130h2v1h-2zM1368 320h1v1h-1zM1032 227h1v1h-1zM1338 366h1v2h-1zM909 113h1v2h-1zM307 132h2v1h-2zM299 145h1v2h-1zM929 146h1v1h-1zM1025 234h1v1h-1zM928 145h1v1h-1zM331 114h1v2h-1zM910 115h1v1h-1zM294 154h1v1h-1zM935 154h1v1h-1zM279 203h5v1h-5zM873 203h1v1h-1zM1227 391h1v1h-1zM1431 391h2v1h-2zM952 282h1v1h-1zM1129 282h1v1h-1zM1147 282h1v1h-1zM49 245h26v1h-26zM87 245h8v1h-8zM914 245h1v1h-1zM167 226h8v1h-8zM897 226h1v1h-1zM1228 392h1v1h-1zM1430 392h1v1h-1zM374 154h1v1h-1zM487 154h2v1h-2zM600 154h4v1h-4zM818 154h1v1h-1zM2 279h1v1h-1zM949 279h1v1h-1zM1134 279h2v1h-2zM1139 279h4v1h-4zM263 205h8v1h-8zM875 205h1v1h-1zM988 311h2v1h-2zM1007 311h2v1h-2zM1172 310h1v2h-1zM191 223h6v1h-6zM893 223h2v1h-2zM663 127h1v1h-1zM694 127h8v1h-8zM369 158h1v1h-1zM495 158h2v1h-2zM591 158h2v1h-2zM823 158h2v1h-2zM990 312h2v1h-2zM1005 312h2v1h-2zM1173 312h1v1h-1zM974 302h1v1h-1zM1028 302h2v1h-2zM1165 302h1v1h-1zM27 256h2v1h-2zM926 256h2v1h-2zM646 134h2v1h-2zM742 134h16v1h-16zM982 308h2v1h-2zM1013 308h2v1h-2zM1170 308h1v1h-1zM153 229h4v1h-4zM900 229h1v1h-1zM1271 453h1v1h-1zM1370 453h1v1h-1zM121 236h5v1h-5zM906 236h1v1h-1zM1230 394h1v1h-1zM1427 394h2v1h-2zM971 298h1v1h-1zM1040 298h7v1h-7zM1070 298h9v1h-9zM1161 297h1v2h-1zM10 271h1v1h-1zM942 271h1v1h-1zM967 294h1v1h-1zM1095 294h3v1h-3zM1158 293h1v2h-1zM47 246h2v1h-2zM75 246h12v1h-12zM915 246h1v1h-1zM970 297h1v1h-1zM1047 297h23v1h-23zM1079 297h8v1h-8zM33 252h1v1h-1zM920 252h1v1h-1zM1201 351h1v1h-1zM1260 436h1v2h-1zM1383 437h1v1h-1zM972 299h1v1h-1zM1036 299h4v1h-4zM1162 299h1v1h-1zM1258 433h1v1h-1zM1386 433h1v1h-1zM36 250h3v1h-3zM918 250h1v1h-1zM400 142h3v1h-3zM461 142h2v1h-2zM630 142h2v1h-2zM790 142h7v1h-7zM1275 458h1v2h-1zM1365 459h1v1h-1zM371 156h2v1h-2zM491 156h2v1h-2zM596 156h2v1h-2zM821 156h1v1h-1zM183 224h8v1h-8zM895 224h1v1h-1zM1202 352h1v2h-1zM1274 457h1v1h-1zM1367 457h1v1h-1zM417 136h29v1h-29zM642 136h2v1h-2zM767 136h5v1h-5zM978 306h2v1h-2zM1017 306h3v1h-3zM1168 306h1v1h-1zM365 161h1v1h-1zM500 161h2v1h-2zM582 161h3v1h-3zM827 161h1v1h-1zM370 157h1v1h-1zM493 157h2v1h-2zM593 157h3v1h-3zM822 157h1v1h-1zM375 153h2v1h-2zM485 153h2v1h-2zM604 153h4v1h-4zM816 153h2v1h-2zM1261 438h1v2h-1zM1381 439h1v1h-1zM655 130h2v1h-2zM660 130h1v1h-1zM716 130h4v1h-4zM1278 463h1v1h-1zM1362 463h1v1h-1zM241 210h3v1h-3zM880 210h1v1h-1zM391 145h2v1h-2zM467 145h2v1h-2zM625 145h1v1h-1zM803 145h2v1h-2zM105 241h3v1h-3zM910 241h1v1h-1zM1223 385h1v2h-1zM1445 385h4v1h-4zM1249 419h1v1h-1zM1397 419h1v2h-1zM332 180h3v1h-3zM852 180h1v1h-1zM662 128h1v1h-1zM702 128h9v1h-9zM959 288h2v1h-2zM1109 288h4v1h-4zM1154 288h1v1h-1zM373 155h1v1h-1zM489 155h2v1h-2zM598 155h2v1h-2zM819 155h2v1h-2zM414 137h3v1h-3zM446 137h6v1h-6zM640 137h2v1h-2zM772 137h4v1h-4zM1253 425h1v1h-1zM1392 425h1v2h-1zM213 219h4v1h-4zM889 219h1v1h-1zM1248 417h1v2h-1zM1399 417h1v1h-1zM286 201h2v1h-2zM871 201h1v1h-1zM231 214h2v1h-2zM884 214h1v1h-1zM21 261h1v1h-1zM933 261h1v1h-1zM1193 337h1v1h-1zM1252 423h1v2h-1zM1394 423h1v1h-1zM131 234h4v1h-4zM904 234h1v1h-1zM22 260h1v1h-1zM932 260h1v1h-1zM20 262h1v1h-1zM934 262h1v1h-1zM1194 338h1v1h-1zM354 167h2v1h-2zM512 167h2v1h-2zM556 167h4v1h-4zM834 167h2v1h-2zM648 133h2v1h-2zM728 133h14v1h-14zM1243 411h1v2h-1zM1404 412h2v1h-2zM1289 478h1v1h-1zM1341 478h2v1h-2zM644 135h2v1h-2zM758 135h9v1h-9zM1266 447h1v1h-1zM1375 446h1v2h-1zM1277 461h1v2h-1zM1364 460h1v2h-1zM1211 368h1v1h-1zM284 202h2v1h-2zM872 202h1v1h-1zM1222 384h1v1h-1zM1449 384h3v1h-3zM652 131h3v1h-3zM720 131h4v1h-4zM958 287h1v1h-1zM1113 287h6v1h-6zM1153 287h1v1h-1zM1215 373h1v2h-1zM352 169h1v1h-1zM518 169h32v1h-32zM838 169h1v1h-1zM208 220h5v1h-5zM890 220h1v1h-1zM304 193h3v1h-3zM864 193h1v1h-1zM1229 393h1v1h-1zM1429 393h1v1h-1zM379 151h2v1h-2zM481 151h2v1h-2zM612 151h4v1h-4zM813 151h2v1h-2zM360 164h2v1h-2zM506 164h2v1h-2zM569 164h5v1h-5zM831 164h1v1h-1zM300 195h2v1h-2zM866 195h1v1h-1zM95 244h5v1h-5zM913 244h1v1h-1zM307 192h2v1h-2zM863 192h1v1h-1zM1239 406h1v1h-1zM1411 406h1v1h-1zM664 126h1v1h-1zM689 126h5v1h-5zM175 225h8v1h-8zM896 225h1v1h-1zM387 147h2v1h-2zM471 147h2v1h-2zM622 147h1v1h-1zM807 147h2v1h-2zM994 314h9v1h-9zM1175 314h1v1h-1zM13 268h1v1h-1zM940 268h1v2h-1zM973 300h1v2h-1zM1030 301h2v1h-2zM1164 301h1v1h-1zM7 274h1v1h-1zM944 274h1v1h-1zM1297 484h3v1h-3zM1316 484h4v1h-4zM1203 354h1v2h-1zM221 217h4v1h-4zM887 217h1v1h-1zM403 141h3v1h-3zM459 141h2v1h-2zM632 141h2v1h-2zM784 141h6v1h-6zM320 186h2v1h-2zM857 186h1v1h-1zM249 207h6v1h-6zM877 207h1v1h-1zM113 238h4v1h-4zM908 238h1v1h-1zM363 162h2v1h-2zM502 162h2v1h-2zM579 162h3v1h-3zM828 162h1v1h-1zM411 138h3v1h-3zM452 138h3v1h-3zM638 138h2v1h-2zM776 138h3v1h-3zM1290 479h2v1h-2zM1339 479h2v1h-2zM962 290h1v1h-1zM1104 290h2v1h-2zM1155 289h1v2h-1zM657 129h3v1h-3zM661 129h1v1h-1zM711 129h5v1h-5zM408 139h3v1h-3zM455 139h2v1h-2zM636 139h2v1h-2zM779 139h3v1h-3zM293 198h2v1h-2zM869 198h1v1h-1zM963 291h1v1h-1zM1102 291h2v1h-2zM1156 291h1v1h-1zM356 166h2v1h-2zM510 166h2v1h-2zM560 166h5v1h-5zM833 166h1v1h-1zM1296 483h1v1h-1zM1320 483h12v1h-12zM0 281h1v1h-1zM951 281h1v1h-1zM1130 281h2v1h-2zM1145 281h2v1h-2zM393 144h3v1h-3zM465 144h2v1h-2zM626 144h2v1h-2zM801 144h2v1h-2zM144 231h5v1h-5zM902 231h1v2h-1zM381 150h2v1h-2zM479 150h2v1h-2zM616 150h3v1h-3zM812 150h1v1h-1zM203 221h5v1h-5zM891 221h1v1h-1zM126 235h5v1h-5zM905 235h1v1h-1zM986 310h2v1h-2zM1009 310h2v1h-2zM650 132h2v1h-2zM724 132h4v1h-4zM29 255h1v1h-1zM924 255h2v1h-2zM291 199h2v1h-2zM870 199h1v2h-1zM1220 381h1v1h-1zM1457 381h2v1h-2zM980 307h2v1h-2zM1015 307h2v1h-2zM1169 307h1v1h-1zM362 163h1v1h-1zM504 163h2v1h-2zM574 163h5v1h-5zM829 163h2v1h-2zM1286 474h1v1h-1zM1348 474h2v1h-2zM1268 450h1v1h-1zM1372 450h1v2h-1zM341 176h2v1h-2zM847 176h2v1h-2zM140 232h4v1h-4zM377 152h2v1h-2zM483 152h2v1h-2zM608 152h4v1h-4zM815 152h1v1h-1zM385 148h2v1h-2zM473 148h3v1h-3zM621 148h1v1h-1zM809 148h1v1h-1zM1217 376h1v2h-1zM8 273h1v1h-1zM943 272h1v2h-1zM1287 475h1v2h-1zM1345 476h1v1h-1zM1242 410h1v1h-1zM1407 410h1v1h-1zM1177 317h1v1h-1zM1285 473h1v1h-1zM1350 473h1v1h-1zM1384 435h1v2h-1zM117 237h4v1h-4zM907 237h1v1h-1zM975 303h1v1h-1zM1025 303h3v1h-3zM1166 303h1v2h-1zM976 304h1v1h-1zM1023 304h2v1h-2zM15 266h2v1h-2zM938 266h1v1h-1zM672 122h6v1h-6zM683 122h2v1h-2zM1300 485h4v1h-4zM1311 485h5v1h-5zM1441 386h4v1h-4zM309 191h2v1h-2zM862 191h1v1h-1zM965 293h2v1h-2zM1098 293h2v1h-2zM1281 467h1v2h-1zM1357 467h2v1h-2zM328 182h2v1h-2zM854 182h1v2h-1zM1267 448h1v2h-1zM1374 448h1v1h-1zM358 165h2v1h-2zM508 165h2v1h-2zM565 165h4v1h-4zM832 165h1v1h-1zM1272 454h1v2h-1zM1369 454h1v1h-1zM953 283h1v1h-1zM1127 283h2v1h-2zM1148 283h1v1h-1zM348 172h1v1h-1zM842 172h1v1h-1zM1259 434h1v2h-1zM1385 434h1v1h-1zM406 140h2v1h-2zM457 140h2v1h-2zM634 140h2v1h-2zM782 140h2v1h-2zM1262 440h1v2h-1zM1380 440h1v1h-1zM389 146h2v1h-2zM469 146h2v1h-2zM623 146h2v1h-2zM805 146h2v1h-2zM1219 379h1v2h-1zM366 160h1v1h-1zM498 160h2v1h-2zM585 160h3v1h-3zM826 160h1v1h-1zM1234 398h1v2h-1zM1419 399h2v1h-2zM1225 388h1v2h-1zM1435 389h2v1h-2zM197 222h6v1h-6zM892 222h1v1h-1zM396 143h4v1h-4zM463 143h2v1h-2zM628 143h2v1h-2zM797 143h4v1h-4zM992 313h2v1h-2zM1003 313h2v1h-2zM1174 313h1v1h-1zM1179 319h1v1h-1zM30 254h1v1h-1zM922 254h2v1h-2zM1273 456h1v1h-1zM1368 455h1v2h-1zM350 170h2v1h-2zM839 170h2v1h-2zM1032 300h4v1h-4zM1163 300h1v1h-1zM969 296h1v1h-1zM1087 296h5v1h-5zM1160 296h1v1h-1zM25 258h1v1h-1zM930 258h1v1h-1zM255 206h8v1h-8zM876 206h1v1h-1zM322 185h2v1h-2zM856 185h1v1h-1zM667 124h3v1h-3zM686 124h1v1h-1zM288 200h3v1h-3zM318 187h2v1h-2zM858 187h1v1h-1zM149 230h4v1h-4zM901 230h1v1h-1zM1379 441h1v2h-1zM1207 361h1v2h-1zM1204 356h1v2h-1zM337 178h2v1h-2zM850 178h1v1h-1zM1346 475h2v1h-2zM135 233h5v1h-5zM903 233h1v1h-1zM1232 396h1v1h-1zM1424 396h2v1h-2zM161 227h6v1h-6zM898 227h1v1h-1zM1236 401h1v2h-1zM1416 402h1v1h-1zM1181 322h1v1h-1zM1247 416h1v1h-1zM1400 416h1v1h-1zM1192 335h1v2h-1zM1251 421h1v2h-1zM1395 422h1v1h-1zM1221 382h1v2h-1zM1455 382h2v1h-2zM968 295h1v1h-1zM1092 295h3v1h-3zM1159 295h1v1h-1zM367 159h2v1h-2zM497 159h1v1h-1zM588 159h3v1h-3zM825 159h1v1h-1zM1196 341h1v2h-1zM39 249h2v1h-2zM917 248h1v2h-1zM1231 395h1v1h-1zM1426 395h1v1h-1zM353 168h1v1h-1zM514 168h4v1h-4zM550 168h6v1h-6zM836 168h2v1h-2zM1398 418h1v1h-1zM34 251h2v1h-2zM919 251h1v1h-1zM1293 481h1v1h-1zM1335 481h2v1h-2zM1294 482h2v1h-2zM1332 482h3v1h-3zM346 173h2v1h-2zM843 173h2v1h-2zM311 190h2v1h-2zM861 190h1v1h-1zM4 277h1v1h-1zM947 277h1v1h-1zM1282 469h1v1h-1zM1355 469h1v1h-1zM228 215h3v1h-3zM885 215h1v1h-1zM111 239h2v1h-2zM909 239h1v2h-1zM14 267h1v1h-1zM939 267h1v1h-1zM955 285h2v1h-2zM1123 285h2v1h-2zM1150 285h2v1h-2zM1205 358h1v1h-1zM1264 444h1v2h-1zM1377 444h1v1h-1zM1245 414h1v1h-1zM1402 414h1v1h-1zM1206 359h1v2h-1zM217 218h4v1h-4zM888 218h1v1h-1zM1366 458h1v1h-1zM11 270h1v1h-1zM941 270h1v1h-1zM1250 420h1v1h-1zM1263 442h1v2h-1zM1378 443h1v1h-1zM1421 398h2v1h-2zM295 197h2v1h-2zM868 197h1v1h-1zM302 194h2v1h-2zM865 194h1v1h-1zM1373 449h1v1h-1zM1238 404h1v2h-1zM1413 404h2v1h-2zM1393 424h1v1h-1zM297 196h3v1h-3zM867 196h1v1h-1zM1198 345h1v2h-1zM41 248h3v1h-3zM247 208h2v1h-2zM878 208h1v1h-1zM1216 375h1v1h-1zM26 257h1v1h-1zM928 257h2v1h-2zM103 242h2v1h-2zM911 242h1v1h-1zM1176 315h1v2h-1zM44 247h3v1h-3zM916 247h1v1h-1zM339 177h2v1h-2zM849 177h1v1h-1zM1417 401h1v1h-1zM239 211h2v1h-2zM881 211h1v1h-1zM3 278h1v1h-1zM948 278h1v1h-1zM1136 278h3v1h-3zM383 149h2v1h-2zM476 149h3v1h-3zM619 149h2v1h-2zM810 149h2v1h-2zM1396 421h1v1h-1zM1 280h1v1h-1zM950 280h1v1h-1zM1132 280h2v1h-2zM1143 280h2v1h-2zM670 123h2v1h-2zM685 123h1v1h-1zM984 309h2v1h-2zM1011 309h2v1h-2zM1171 309h1v1h-1zM1218 378h1v1h-1zM330 181h2v1h-2zM853 181h1v1h-1zM1265 446h1v1h-1zM326 183h2v1h-2zM1254 426h1v2h-1zM1391 427h1v1h-1zM5 276h1v1h-1zM946 276h1v1h-1zM349 171h1v1h-1zM841 171h1v1h-1zM9 272h1v1h-1zM1382 438h1v1h-1zM954 284h1v1h-1zM1125 284h2v1h-2zM1149 284h1v1h-1zM1304 486h7v1h-7zM1363 462h1v1h-1zM1283 470h1v1h-1zM1354 470h1v1h-1zM1240 407h1v2h-1zM1410 407h1v1h-1zM19 263h1v1h-1zM935 263h1v1h-1zM1279 464h1v2h-1zM1361 464h1v1h-1zM1292 480h1v1h-1zM1337 480h2v1h-2zM345 174h1v1h-1zM845 174h1v1h-1zM343 175h2v1h-2zM846 175h1v1h-1zM157 228h4v1h-4zM899 228h1v1h-1zM1180 320h1v2h-1zM964 292h1v1h-1zM1100 292h2v1h-2zM1157 292h1v1h-1zM335 179h2v1h-2zM851 179h1v1h-1zM271 204h8v1h-8zM874 204h1v1h-1zM1452 383h3v1h-3zM100 243h3v1h-3zM912 243h1v1h-1zM1356 468h1v1h-1zM1178 318h1v1h-1zM1237 403h1v1h-1zM1415 403h1v1h-1zM225 216h3v1h-3zM886 216h1v1h-1zM977 305h1v1h-1zM1020 305h3v1h-3zM1167 305h1v1h-1zM1244 413h1v1h-1zM1403 413h1v1h-1zM12 269h1v1h-1zM1226 390h1v1h-1zM1433 390h2v1h-2zM324 184h2v1h-2zM855 184h1v1h-1zM1255 428h1v1h-1zM1390 428h1v1h-1zM108 240h3v1h-3zM1376 445h1v1h-1zM1210 366h1v2h-1zM1360 465h1v1h-1zM1235 400h1v1h-1zM1418 400h1v1h-1zM1412 405h1v1h-1zM233 213h3v1h-3zM883 213h1v1h-1zM1409 408h1v1h-1zM1184 325h1v2h-1zM18 264h1v1h-1zM936 264h1v1h-1zM1257 431h1v2h-1zM1387 432h1v1h-1zM316 188h2v1h-2zM859 188h1v1h-1zM1195 339h1v2h-1zM1199 347h1v2h-1zM236 212h3v1h-3zM882 212h1v1h-1zM665 125h2v1h-2zM687 125h2v1h-2zM678 121h5v1h-5zM6 275h1v1h-1zM945 275h1v1h-1zM1182 323h1v1h-1zM1197 343h1v2h-1zM1284 471h1v2h-1zM1351 472h2v1h-2zM17 265h1v1h-1zM937 265h1v1h-1zM1269 451h1v1h-1zM244 209h3v1h-3zM879 209h1v1h-1zM1406 411h1v1h-1zM1388 430h1v2h-1zM961 289h1v1h-1zM1106 289h3v1h-3zM1188 330h1v2h-1zM1270 452h1v1h-1zM1371 452h1v1h-1zM313 189h3v1h-3zM860 189h1v1h-1zM1437 388h2v1h-2zM1224 387h1v1h-1zM1439 387h2v1h-2zM1186 328h1v1h-1zM1233 397h1v1h-1zM1423 397h1v1h-1zM1208 363h1v2h-1zM1200 349h1v2h-1zM23 259h2v1h-2zM931 259h1v1h-1zM1288 477h1v1h-1zM1343 477h2v1h-2zM31 253h2v1h-2zM921 253h1v1h-1zM957 286h1v1h-1zM1119 286h4v1h-4zM1152 286h1v1h-1zM1212 369h1v2h-1zM1353 471h1v1h-1zM1241 409h1v1h-1zM1408 409h1v1h-1zM1183 324h1v1h-1zM1256 429h1v2h-1zM1389 429h1v1h-1zM1276 460h1v1h-1zM1214 372h1v1h-1zM1280 466h1v1h-1zM1359 466h1v1h-1zM1185 327h1v1h-1zM1187 329h1v1h-1zM1246 415h1v1h-1zM1401 415h1v1h-1zM1189 332h1v1h-1zM1190 333h1v1h-1zM1191 334h1v1h-1zM1209 365h1v1h-1zM1213 371h1v1h-1zM49 281h3v1h-3zM67 281h2v1h-2zM150 281h4v1h-4zM178 281h10v1h-10zM197 281h4v1h-4zM853 280h1v3h-1zM663 171h1v2h-1zM697 171h5v1h-5zM720 171h3v1h-3zM763 171h2v1h-2zM1162 404h1v3h-1zM235 247h1v1h-1zM300 247h3v1h-3zM362 247h1v1h-1zM840 246h1v2h-1zM1201 515h1v5h-1zM52 280h2v1h-2zM64 280h3v1h-3zM154 280h3v1h-3zM172 280h6v1h-6zM201 280h3v1h-3zM664 169h1v2h-1zM695 170h2v1h-2zM723 170h3v1h-3zM758 170h5v1h-5zM932 372h2v1h-2zM961 372h1v1h-1zM1030 372h8v1h-8zM1076 372h3v1h-3zM1152 371h1v4h-1zM401 205h1v1h-1zM460 205h1v1h-1zM643 205h1v2h-1zM819 204h1v2h-1zM9 355h1v1h-1zM890 355h2v1h-2zM1122 355h1v1h-1zM1147 354h1v3h-1zM1214 570h1v4h-1zM386 217h1v1h-1zM472 217h1v1h-1zM632 217h1v1h-1zM826 217h1v1h-1zM1 366h1v2h-1zM916 367h4v1h-4zM972 367h4v1h-4zM1008 367h1v1h-1zM1091 367h2v1h-2zM1150 364h1v4h-1zM240 242h1v1h-1zM293 242h1v1h-1zM368 242h2v1h-2zM567 242h4v1h-4zM586 242h4v1h-4zM838 241h1v2h-1zM1166 415h1v2h-1zM1204 528h1v4h-1zM693 169h2v1h-2zM726 169h2v1h-2zM744 169h14v1h-14zM923 369h3v1h-3zM967 369h2v1h-2zM1012 369h4v1h-4zM1084 369h4v1h-4zM1151 368h1v3h-1zM2 365h1v1h-1zM911 365h2v1h-2zM979 365h2v1h-2zM1007 365h1v2h-1zM1095 365h2v1h-2zM47 284h1v2h-1zM93 285h4v1h-4zM138 285h3v1h-3zM854 283h1v3h-1zM1172 431h1v2h-1zM226 257h1v2h-1zM346 258h1v1h-1zM844 256h1v3h-1zM936 374h2v1h-2zM958 374h2v1h-2zM1054 374h16v1h-16zM73 284h20v1h-20zM141 284h3v1h-3zM208 276h1v1h-1zM851 275h1v3h-1zM1173 433h1v3h-1zM54 279h2v1h-2zM62 279h2v1h-2zM157 279h4v1h-4zM166 279h6v1h-6zM204 279h1v1h-1zM852 278h1v2h-1zM672 155h1v2h-1zM675 156h1v1h-1zM247 236h1v1h-1zM285 236h1v1h-1zM373 235h1v2h-1zM500 236h4v1h-4zM509 236h4v1h-4zM535 236h15v1h-15zM604 236h1v1h-1zM836 236h1v2h-1zM666 165h1v2h-1zM685 165h2v1h-2zM45 287h1v2h-1zM101 287h34v1h-34zM855 286h1v2h-1zM44 289h1v1h-1zM856 288h1v3h-1zM211 273h1v1h-1zM850 272h1v3h-1zM671 157h1v2h-1zM676 157h1v1h-1zM3 363h1v2h-1zM907 363h2v1h-2zM983 363h2v1h-2zM1005 363h1v1h-1zM1100 363h3v1h-3zM1149 361h1v3h-1zM1176 441h1v3h-1zM0 368h1v1h-1zM920 368h3v1h-3zM969 368h3v1h-3zM1009 368h3v1h-3zM1088 368h3v1h-3zM7 358h1v1h-1zM895 358h2v1h-2zM992 358h2v1h-2zM1001 358h1v1h-1zM1113 358h3v1h-3zM1148 357h1v4h-1zM410 194h1v1h-1zM449 194h1v1h-1zM651 193h1v2h-1zM799 194h2v1h-2zM227 256h1v1h-1zM342 256h2v1h-2zM349 256h1v1h-1zM407 197h1v2h-1zM452 197h1v1h-1zM649 196h1v2h-1zM805 197h2v1h-2zM417 186h1v1h-1zM436 186h4v1h-4zM655 186h1v2h-1zM781 186h2v1h-2zM5 360h1v2h-1zM899 360h3v1h-3zM989 360h2v1h-2zM1003 360h1v1h-1zM1108 360h3v1h-3zM248 235h1v1h-1zM283 235h2v1h-2zM497 235h3v1h-3zM513 235h5v1h-5zM526 235h9v1h-9zM605 235h2v1h-2zM835 233h1v3h-1zM8 356h1v2h-1zM892 356h2v1h-2zM1120 356h2v1h-2zM409 195h1v1h-1zM450 195h1v1h-1zM650 195h1v1h-1zM801 195h2v1h-2zM375 231h1v2h-1zM489 231h2v1h-2zM613 231h2v1h-2zM834 231h1v2h-1zM1210 554h1v4h-1zM894 357h1v1h-1zM994 357h7v1h-7zM1116 357h4v1h-4zM491 232h2v1h-2zM611 232h2v1h-2zM40 295h1v2h-1zM858 294h1v3h-1zM1186 465h1v2h-1zM16 347h1v1h-1zM884 347h1v2h-1zM1130 347h1v1h-1zM1145 347h1v3h-1zM1211 558h1v4h-1zM1183 458h1v2h-1zM1190 475h1v3h-1zM702 172h9v1h-9zM716 172h4v1h-4zM765 172h1v1h-1zM418 185h18v1h-18zM656 184h1v2h-1zM779 185h2v1h-2zM239 243h1v1h-1zM294 243h1v1h-1zM367 243h1v1h-1zM571 243h5v1h-5zM581 243h5v1h-5zM839 243h1v3h-1zM665 167h1v2h-1zM689 167h2v1h-2zM734 167h6v1h-6zM926 370h3v1h-3zM964 370h3v1h-3zM1016 370h7v1h-7zM1081 370h3v1h-3zM24 332h1v2h-1zM874 332h1v1h-1zM1138 332h1v1h-1zM241 241h2v1h-2zM291 241h2v1h-2zM370 241h1v1h-1zM562 241h5v1h-5zM590 241h5v1h-5zM875 333h1v2h-1zM1137 333h2v1h-2zM413 190h1v2h-1zM445 191h2v1h-2zM652 191h1v2h-1zM791 191h2v1h-2zM222 262h1v1h-1zM846 262h1v2h-1zM21 338h1v2h-1zM878 338h1v2h-1zM1135 337h1v2h-1zM1141 338h1v3h-1zM229 254h1v1h-1zM339 254h2v1h-2zM352 254h1v1h-1zM843 254h1v2h-1zM249 234h1v1h-1zM275 234h8v1h-8zM374 233h1v2h-1zM495 234h2v1h-2zM518 234h8v1h-8zM607 234h2v1h-2zM1161 402h1v2h-1zM378 227h1v1h-1zM483 227h2v1h-2zM621 227h1v1h-1zM832 227h1v2h-1zM228 255h1v1h-1zM341 255h1v1h-1zM350 255h2v1h-2zM58 277h2v1h-2zM206 277h2v1h-2zM416 187h1v1h-1zM440 187h2v1h-2zM783 187h2v1h-2zM657 182h1v2h-1zM776 183h1v1h-1zM48 282h1v2h-1zM69 282h2v1h-2zM147 282h3v1h-3zM188 282h9v1h-9zM1167 417h1v3h-1zM238 244h1v1h-1zM295 244h2v1h-2zM366 244h1v1h-1zM576 244h5v1h-5zM380 224h1v1h-1zM480 224h1v1h-1zM625 224h1v1h-1zM830 224h1v1h-1zM233 249h1v1h-1zM307 249h3v1h-3zM314 249h6v1h-6zM325 249h6v1h-6zM359 249h1v1h-1zM841 248h1v3h-1zM940 376h2v1h-2zM956 376h1v1h-1zM1153 375h1v4h-1zM225 259h1v1h-1zM845 259h1v3h-1zM231 251h1v2h-1zM336 252h2v1h-2zM354 252h2v1h-2zM842 251h1v3h-1zM1171 428h1v3h-1zM934 373h2v1h-2zM960 373h1v1h-1zM1038 373h16v1h-16zM1070 373h6v1h-6zM913 366h3v1h-3zM976 366h3v1h-3zM1093 366h2v1h-2zM244 239h1v1h-1zM289 239h1v1h-1zM371 239h1v2h-1zM557 239h2v1h-2zM598 239h2v1h-2zM837 238h1v3h-1zM31 317h1v3h-1zM867 318h1v2h-1zM397 207h2v1h-2zM463 207h1v1h-1zM642 207h1v1h-1zM820 206h1v2h-1zM246 237h1v1h-1zM286 237h1v1h-1zM372 237h1v2h-1zM504 237h5v1h-5zM550 237h5v1h-5zM602 237h2v1h-2zM245 238h1v1h-1zM287 238h2v1h-2zM555 238h2v1h-2zM600 238h2v1h-2zM1196 493h1v5h-1zM214 270h2v1h-2zM849 270h1v2h-1zM658 181h1v1h-1zM774 181h1v1h-1zM56 278h2v1h-2zM60 278h2v1h-2zM161 278h5v1h-5zM205 278h1v1h-1zM670 159h1v1h-1zM678 159h1v1h-1zM390 213h1v1h-1zM469 213h1v2h-1zM636 213h1v1h-1zM824 213h1v2h-1zM22 336h1v2h-1zM876 335h1v2h-1zM1136 335h1v2h-1zM1140 336h1v2h-1zM388 215h1v1h-1zM470 215h1v1h-1zM634 215h1v1h-1zM825 215h1v2h-1zM662 173h1v3h-1zM767 174h2v1h-2zM1185 462h1v3h-1zM415 188h1v1h-1zM442 188h1v1h-1zM654 188h1v1h-1zM785 188h2v1h-2zM19 342h1v2h-1zM881 343h1v2h-1zM1132 343h1v2h-1zM1143 343h1v2h-1zM236 246h1v1h-1zM298 246h2v1h-2zM363 246h1v1h-1zM250 233h25v1h-25zM493 233h2v1h-2zM609 233h2v1h-2zM379 225h1v2h-1zM482 226h1v1h-1zM622 226h1v1h-1zM831 225h1v2h-1zM1205 532h1v5h-1zM691 168h2v1h-2zM728 168h6v1h-6zM740 168h4v1h-4zM1174 436h1v3h-1zM23 334h1v2h-1zM1139 334h1v2h-1zM1156 388h1v4h-1zM376 229h1v2h-1zM486 229h1v1h-1zM617 229h2v1h-2zM833 229h1v2h-1zM6 359h1v1h-1zM897 359h2v1h-2zM991 359h1v1h-1zM1002 359h1v1h-1zM1111 359h2v1h-2zM385 218h1v1h-1zM473 218h1v1h-1zM631 218h1v1h-1zM827 218h1v2h-1zM402 204h1v1h-1zM459 204h1v1h-1zM644 204h1v1h-1zM1181 453h1v3h-1zM929 371h3v1h-3zM962 371h2v1h-2zM1023 371h7v1h-7zM1079 371h2v1h-2zM1199 506h1v5h-1zM12 351h1v2h-1zM887 351h1v2h-1zM1125 352h1v1h-1zM1146 350h1v4h-1zM243 240h1v1h-1zM290 240h1v1h-1zM559 240h3v1h-3zM595 240h3v1h-3zM10 354h1v1h-1zM889 354h1v1h-1zM1123 354h1v1h-1zM344 257h2v1h-2zM347 257h2v1h-2zM36 304h1v2h-1zM862 305h1v3h-1zM29 322h1v2h-1zM869 322h1v2h-1zM393 210h1v1h-1zM466 210h1v1h-1zM639 210h1v1h-1zM822 210h1v1h-1zM237 245h1v1h-1zM297 245h1v1h-1zM364 245h2v1h-2zM405 200h1v1h-1zM455 200h1v1h-1zM647 199h1v2h-1zM811 200h2v1h-2zM392 211h1v1h-1zM467 211h1v1h-1zM638 211h1v1h-1zM823 211h1v2h-1zM1195 489h1v4h-1zM411 193h1v1h-1zM448 193h1v1h-1zM796 193h3v1h-3zM414 189h1v1h-1zM443 189h1v1h-1zM653 189h1v2h-1zM787 189h2v1h-2zM1208 545h1v4h-1zM444 190h1v1h-1zM789 190h2v1h-2zM667 163h1v2h-1zM683 164h2v1h-2zM221 263h1v2h-1zM71 283h2v1h-2zM144 283h3v1h-3zM661 176h1v2h-1zM770 176h1v1h-1zM232 250h1v1h-1zM310 250h4v1h-4zM331 250h3v1h-3zM357 250h2v1h-2zM216 269h1v1h-1zM848 267h1v3h-1zM399 206h2v1h-2zM461 206h2v1h-2zM909 364h2v1h-2zM981 364h2v1h-2zM1006 364h1v1h-1zM1097 364h3v1h-3zM1169 423h1v2h-1zM220 265h1v1h-1zM847 264h1v3h-1zM1179 449h1v2h-1zM1180 451h1v2h-1zM334 251h2v1h-2zM356 251h1v1h-1zM28 324h1v2h-1zM870 324h1v2h-1zM711 173h5v1h-5zM766 173h1v1h-1zM43 290h1v2h-1zM857 291h1v3h-1zM37 301h1v3h-1zM860 300h1v3h-1zM1213 566h1v4h-1zM1193 483h1v2h-1zM384 219h1v1h-1zM474 219h1v1h-1zM630 219h1v1h-1zM659 180h1v1h-1zM773 179h1v2h-1zM481 225h1v1h-1zM623 225h2v1h-2zM14 349h1v1h-1zM885 349h1v1h-1zM1128 349h1v1h-1zM1168 420h1v3h-1zM944 378h4v1h-4zM952 378h2v1h-2zM35 306h1v3h-1zM877 337h1v1h-1zM381 223h1v1h-1zM479 223h1v1h-1zM626 223h1v1h-1zM829 222h1v2h-1zM223 261h1v1h-1zM673 154h1v1h-1zM391 212h1v1h-1zM468 212h1v1h-1zM637 212h1v1h-1zM1178 447h1v2h-1zM669 160h1v2h-1zM680 161h1v1h-1zM1126 351h1v1h-1zM387 216h1v1h-1zM471 216h1v1h-1zM633 216h1v1h-1zM1191 478h1v2h-1zM408 196h1v1h-1zM451 196h1v1h-1zM803 196h2v1h-2zM1192 480h1v3h-1zM46 286h1v1h-1zM97 286h4v1h-4zM135 286h3v1h-3zM403 202h1v2h-1zM458 203h1v1h-1zM645 202h1v2h-1zM817 203h2v1h-2zM668 162h1v1h-1zM681 162h1v1h-1zM406 199h1v1h-1zM454 199h1v1h-1zM809 199h2v1h-2zM942 377h2v1h-2zM954 377h2v1h-2zM775 182h1v1h-1zM1163 407h1v2h-1zM1202 520h1v4h-1zM213 271h1v1h-1zM234 248h1v1h-1zM303 248h4v1h-4zM320 248h5v1h-5zM360 248h2v1h-2zM1215 574h1v2h-1zM453 198h1v1h-1zM648 198h1v1h-1zM807 198h2v1h-2zM412 192h1v1h-1zM447 192h1v1h-1zM793 192h3v1h-3zM209 275h1v1h-1zM15 348h1v1h-1zM1129 348h1v1h-1zM404 201h1v1h-1zM456 201h1v1h-1zM646 201h1v1h-1zM813 201h2v1h-2zM861 303h1v2h-1zM230 253h1v1h-1zM338 253h1v1h-1zM353 253h1v1h-1zM682 163h1v1h-1zM1155 383h1v5h-1zM1137 334h1v1h-1zM1134 339h1v2h-1zM457 202h1v1h-1zM815 202h2v1h-2zM660 178h1v2h-1zM20 340h1v2h-1zM879 340h1v1h-1zM377 228h1v1h-1zM485 228h1v1h-1zM619 228h2v1h-2zM487 230h2v1h-2zM615 230h2v1h-2zM1200 511h1v4h-1zM880 341h1v2h-1zM1133 341h1v2h-1zM1142 341h1v2h-1zM42 292h1v2h-1zM30 320h1v2h-1zM868 320h1v2h-1zM27 326h1v2h-1zM871 326h1v2h-1zM389 214h1v1h-1zM635 214h1v1h-1zM32 314h1v3h-1zM865 314h1v2h-1zM383 220h1v2h-1zM475 220h1v1h-1zM629 220h1v1h-1zM828 220h1v2h-1zM18 344h1v1h-1zM1203 524h1v4h-1zM11 353h1v1h-1zM888 353h1v1h-1zM1124 353h1v1h-1zM1154 379h1v4h-1zM382 222h1v1h-1zM477 222h2v1h-2zM627 222h1v1h-1zM1212 562h1v4h-1zM39 297h1v2h-1zM859 297h1v3h-1zM1188 470h1v2h-1zM902 361h3v1h-3zM987 361h2v1h-2zM1004 361h1v2h-1zM1105 361h3v1h-3zM687 166h2v1h-2zM38 299h1v2h-1zM1170 425h1v3h-1zM219 266h1v1h-1zM777 184h2v1h-2zM1187 467h1v3h-1zM1194 485h1v4h-1zM395 208h2v1h-2zM464 208h1v1h-1zM641 208h1v1h-1zM821 208h1v2h-1zM1165 412h1v3h-1zM863 308h1v3h-1zM33 312h1v2h-1zM864 311h1v3h-1zM948 379h4v1h-4zM866 316h1v2h-1zM1206 537h1v4h-1zM1157 392h1v4h-1zM771 177h1v1h-1zM1164 409h1v3h-1zM1216 576h1v2h-1zM217 268h1v1h-1zM34 309h1v3h-1zM1217 578h1v1h-1zM1207 541h1v4h-1zM677 158h1v1h-1zM476 221h1v1h-1zM628 221h1v1h-1zM1158 396h1v2h-1zM212 272h1v1h-1zM1175 439h1v2h-1zM1182 456h1v2h-1zM1189 472h1v3h-1zM25 330h1v2h-1zM873 330h1v2h-1zM1209 549h1v5h-1zM1160 400h1v2h-1zM218 267h1v1h-1zM224 260h1v1h-1zM1198 502h1v4h-1zM17 345h1v2h-1zM883 346h1v1h-1zM1131 345h1v2h-1zM1144 345h1v2h-1zM41 294h1v1h-1zM882 345h1v1h-1zM394 209h1v1h-1zM465 209h1v1h-1zM640 209h1v1h-1zM13 350h1v1h-1zM886 350h1v1h-1zM1127 350h1v1h-1zM1197 498h1v4h-1zM674 155h1v1h-1zM4 362h1v1h-1zM905 362h2v1h-2zM985 362h2v1h-2zM1103 362h2v1h-2zM26 328h1v2h-1zM872 328h1v2h-1zM772 178h1v1h-1zM1177 444h1v3h-1zM1184 460h1v2h-1zM1159 398h1v2h-1zM938 375h2v1h-2zM957 375h1v1h-1zM769 175h1v1h-1zM210 274h1v1h-1zM679 160h1v1h-1zM1390 559h1v1h-1zM1392 556h1v2h-1zM1420 504h1v2h-1zM1434 467h1v4h-1zM1412 519h1v2h-1zM1414 516h1v1h-1zM1386 564h1v1h-1zM1388 561h1v2h-1zM1387 563h1v1h-1zM1432 474h1v3h-1zM1438 453h1v4h-1zM1419 506h1v2h-1zM1421 502h1v2h-1zM1398 546h1v2h-1zM1447 441h2v1h-2zM1384 566h1v1h-1zM1413 517h1v2h-1zM1385 565h1v1h-1zM1397 548h1v2h-1zM1383 567h1v1h-1zM1441 446h1v2h-1zM1426 491h1v3h-1zM1436 460h1v4h-1zM1378 571h1v1h-1zM1457 437h2v1h-2zM1410 523h1v2h-1zM1450 439h3v1h-3zM1411 521h1v2h-1zM1430 480h1v2h-1zM1440 448h1v2h-1zM1442 445h1v1h-1zM1417 510h1v2h-1zM1374 576h1v1h-1zM1376 573h1v2h-1zM1433 471h1v3h-1zM1396 550h1v2h-1zM1395 552h1v2h-1zM1429 482h1v3h-1zM1401 540h1v2h-1zM1424 496h1v2h-1zM1373 577h1v2h-1zM1391 558h1v1h-1zM1393 555h1v1h-1zM1428 485h1v3h-1zM1415 514h1v2h-1zM1423 498h1v2h-1zM1425 494h1v2h-1zM1389 560h1v1h-1zM1427 488h1v3h-1zM1408 526h1v2h-1zM1407 528h1v2h-1zM1439 450h1v3h-1zM1431 477h1v3h-1zM1406 530h1v2h-1zM1422 500h1v2h-1zM1435 464h1v3h-1zM1399 544h1v2h-1zM1443 444h2v1h-2zM1377 572h1v1h-1zM1381 568h2v1h-2zM1403 536h1v2h-1zM1405 532h1v2h-1zM1446 442h1v1h-1zM1404 534h1v2h-1zM1437 457h1v3h-1zM1418 508h1v2h-1zM1453 438h4v1h-4zM1402 538h1v2h-1zM1416 512h1v2h-1zM1409 525h1v1h-1zM1400 542h1v2h-1zM1445 443h1v1h-1zM1449 440h1v1h-1zM1379 570h1v1h-1zM1380 569h1v1h-1zM1375 575h1v1h-1zM1394 554h1v1h-1z" fill="#3cb371"/><rect x="2" y="234" width="1" height="42" fill="#000"/><rect x="0" y="250" width="5" height="7" fill="#000"/><rect x="1" y="251" width="3" height="5" fill="#fff"/><rect x="10" y="203" width="1" height="48" fill="#000"/><rect x="8" y="210" width="5" height="40" fill="#000"/><rect x="9" y="211" width="3" height="38" fill="#fff"/><rect x="18" y="205" width="1" height="11" fill="#000"/><rect x="16" y="206" width="5" height="5" fill="#000"/><rect x="17" y="207" width="3" height="3" fill="#fff"/><rect x="26" y="202" width="1" height="20" fill="#000"/><rect x="24" y="206" width="5" height="13" fill="#000"/><rect x="34" y="211" width="1" height="23" fill="#000"/><rect x="32" y="218" width="5" height="6" fill="#000"/><rect x="42" y="220" width="1" height="20" fill="#000"/><rect x="40" y="223" width="5" height="14" fill="#000"/><rect x="50" y="234" width="1" height="28" fill="#000"/><rect x="48" y="236" width="5" height="24" fill="#000"/><rect x="58" y="255" width="1" height="27" fill="#000"/><rect x="56" y="259" width="5" height="13" fill="#000"/><rect x="66" y="268" width="1" height="8" fill="#000"/><rect x="64" y="271" width="5" height="1" fill="#000"/><rect x="74" y="271" width="1" height="22" fill="#000"/><rect x="72" y="271" width="5" height="3" fill="#000"/><rect x="82" y="250" width="1" height="26" fill="#000"/><rect x="80" y="255" width="5" height="19" fill="#000"/><rect x="81" y="256" width="3" height="17" fill="#fff"/><rect x="90" y="250" width="1" height="28" fill="#000"/><rect x="88" y="251" width="5" height="4" fill="#000"/><rect x="89" y="252" width="3" height="2" fill="#fff"/><rect x="98" y="189" width="1" height="81" fill="#000"/><rect x="96" y="203" width="5" height="48" fill="#000"/><rect x="97" y="204" width="3" height="46" fill="#fff"/><rect x="106" y="190" width="1" height="18" fill="#000"/><rect x="104" y="203" width="5" height="1" fill="#000"/><rect x="114" y="204" width="1" height="6" fill="#000"/><rect x="112" y="206" width="5" height="3" fill="#000"/><rect x="122" y="195" width="1" height="20" fill="#000"/><rect x="120" y="200" width="5" height="9" fill="#000"/><rect x="121" y="201" width="3" height="7" fill="#fff"/><rect x="130" y="195" width="1" height="24" fill="#000"/><rect x="128" y="201" width="5" height="3" fill="#000"/><rect x="138" y="198" width="1" height="25" fill="#000"/><rect x="136" y="203" width="5" height="7" fill="#000"/><rect x="146" y="202" width="1" height="35" fill="#000"/><rect x="144" y="210" width="5" height="2" fill="#000"/><rect x="154" y="202" width="1" height="16" fill="#000"/><rect x="152" y="210" width="5" height="3" fill="#000"/><rect x="153" y="211" width="3" height="1" fill="#fff"/><rect x="162" y="208" width="1" height="9" fill="#000"/><rect x="160" y="210" width="5" height="2" fill="#000"/><rect x="170" y="192" width="1" height="23" fill="#000"/><rect x="168" y="193" width="5" height="19" fill="#000"/><rect x="169" y="194" width="3" height="17" fill="#fff"/><rect x="178" y="168" width="1" height="29" fill="#000"/><rect x="176" y="186" width="5" height="8" fill="#000"/><rect x="177" y="187" width="3" height="6" fill="#fff"/><rect x="186" y="177" width="1" height="35" fill="#000"/><rect x="184" y="181" width="5" height="6" fill="#000"/><rect x="185" y="182" width="3" height="4" fill="#fff"/><rect x="194" y="162" width="1" height="66" fill="#000"/><rect x="192" y="181" width="5" height="42" fill="#000"/><rect x="202" y="211" width="1" height="16" fill="#000"/><rect x="200" y="222" width="5" height="1" fill="#000"/><rect x="210" y="212" width="1" height="12" fill="#000"/><rect x="208" y="218" width="5" height="5" fill="#000"/><rect x="209" y="219" width="3" height="3" fill="#fff"/><rect x="218" y="214" width="1" height="26" fill="#000"/><rect x="216" y="217" width="5" height="17" fill="#000"/><rect x="226" y="205" width="1" height="35" fill="#000"/><rect x="224" y="213" width="5" height="21" fill="#000"/><rect x="225" y="214" width="3" height="19" fill="#fff"/><rect x="234" y="205" width="1" height="22" fill="#000"/><rect x="232" y="213" width="5" height="2" fill="#000"/><rect x="242" y="171" width="1" height="43" fill="#000"/><rect x="240" y="180" width="5" height="33" fill="#000"/><rect x="241" y="181" width="3" height="31" fill="#fff"/><rect x="250" y="175" width="1" height="28" fill="#000"/><rect x="248" y="180" width="5" height="21" fill="#000"/><rect x="258" y="196" width="1" height="8" fill="#000"/><rect x="256" y="199" width="5" height="2" fill="#000"/><rect x="266" y="189" width="1" height="15" fill="#000"/><rect x="264" y="197" width="5" height="3" fill="#000"/><rect x="265" y="198" width="3" height="1" fill="#fff"/><rect x="274" y="178" width="1" height="22" fill="#000"/><rect x="272" y="180" width="5" height="17" fill="#000"/><rect x="273" y="181" width="3" height="15" fill="#fff"/><rect x="282" y="168" width="1" height="24" fill="#000"/><rect x="280" y="179" width="5" height="3" fill="#000"/><rect x="281" y="180" width="3" height="1" fill="#fff"/><rect x="290" y="132" width="1" height="57" fill="#000"/><rect x="288" y="145" width="5" height="36" fill="#000"/><rect x="289" y="146" width="3" height="34" fill="#fff"/><rect x="298" y="129" width="1" height="18" fill="#000"/><rect x="296" y="132" width="5" height="14" fill="#000"/><rect x="297" y="133" width="3" height="12" fill="#fff"/><rect x="306" y="130" width="1" height="6" fill="#000"/><rect x="304" y="133" width="5" height="1" fill="#000"/><rect x="314" y="123" width="1" height="13" fill="#000"/><rect x="312" y="132" width="5" height="2" fill="#000"/><rect x="322" y="130" width="1" height="15" fill="#000"/><rect x="320" y="134" width="5" height="9" fill="#000"/><rect x="330" y="127" width="1" height="25" fill="#000"/><rect x="328" y="136" width="5" height="9" fill="#000"/><rect x="329" y="137" width="3" height="7" fill="#fff"/><rect x="338" y="93" width="1" height="55" fill="#000"/><rect x="336" y="106" width="5" height="31" fill="#000"/><rect x="337" y="107" width="3" height="29" fill="#fff"/><rect x="346" y="76" width="1" height="33" fill="#000"/><rect x="344" y="89" width="5" height="19" fill="#000"/><rect x="345" y="90" width="3" height="17" fill="#fff"/><rect x="354" y="104" width="1" height="8" fill="#000"/><rect x="352" y="106" width="5" height="5" fill="#000"/><rect x="362" y="108" width="1" height="12" fill="#000"/><rect x="360" y="111" width="5" height="6" fill="#000"/><rect x="370" y="112" width="1" height="21" fill="#000"/><rect x="368" y="116" width="5" height="15" fill="#000"/><rect x="378" y="122" width="1" height="16" fill="#000"/><rect x="376" y="123" width="5" height="7" fill="#000"/><rect x="377" y="124" width="3" height="5" fill="#fff"/><rect x="386" y="122" width="1" height="29" fill="#000"/><rect x="384" y="122" width="5" height="20" fill="#000"/><rect x="394" y="132" width="1" height="11" fill="#000"/><rect x="392" y="135" width="5" height="8" fill="#000"/><rect x="393" y="136" width="3" height="6" fill="#fff"/><rect x="402" y="128" width="1" height="13" fill="#000"/><rect x="400" y="131" width="5" height="4" fill="#000"/><rect x="401" y="132" width="3" height="2" fill="#fff"/><rect x="410" y="112" width="1" height="19" fill="#000"/><rect x="408" y="121" width="5" height="10" fill="#000"/><rect x="409" y="122" width="3" height="8" fill="#fff"/><rect x="418" y="115" width="1" height="34" fill="#000"/><rect x="416" y="121" width="5" height="17" fill="#000"/><rect x="426" y="136" width="1" height="67" fill="#000"/><rect x="424" y="136" width="5" height="60" fill="#000"/><rect x="434" y="169" width="1" height="33" fill="#000"/><rect x="432" y="179" width="5" height="17" fill="#000"/><rect x="433" y="180" width="3" height="15" fill="#fff"/><rect x="442" y="173" width="1" height="19" fill="#000"/><rect x="440" y="179" width="5" height="10" fill="#000"/><rect x="450" y="182" width="1" height="10" fill="#000"/><rect x="448" y="189" width="5" height="3" fill="#000"/><rect x="458" y="179" width="1" height="16" fill="#000"/><rect x="456" y="190" width="5" height="2" fill="#000"/><rect x="466" y="187" width="1" height="28" fill="#000"/><rect x="464" y="190" width="5" height="16" fill="#000"/><rect x="474" y="191" width="1" height="30" fill="#000"/><rect x="472" y="202" width="5" height="3" fill="#000"/><rect x="473" y="203" width="3" height="1" fill="#fff"/><rect x="482" y="193" width="1" height="48" fill="#000"/><rect x="480" y="201" width="5" height="7" fill="#000"/><rect x="490" y="185" width="1" height="29" fill="#000"/><rect x="488" y="197" width="5" height="11" fill="#000"/><rect x="489" y="198" width="3" height="9" fill="#fff"/><rect x="498" y="193" width="1" height="14" fill="#000"/><rect x="496" y="196" width="5" height="9" fill="#000"/><rect x="506" y="196" width="1" height="16" fill="#000"/><rect x="504" y="203" width="5" height="5" fill="#000"/><rect x="514" y="176" width="1" height="42" fill="#000"/><rect x="512" y="183" width="5" height="24" fill="#000"/><rect x="513" y="184" width="3" height="22" fill="#fff"/><rect x="522" y="131" width="1" height="53" fill="#000"/><rect x="520" y="132" width="5" height="52" fill="#000"/><rect x="521" y="133" width="3" height="50" fill="#fff"/><rect x="530" y="114" width="1" height="35" fill="#000"/><rect x="528" y="115" width="5" height="17" fill="#000"/><rect x="529" y="116" width="3" height="15" fill="#fff"/><rect x="538" y="105" width="1" height="29" fill="#000"/><rect x="536" y="115" width="5" height="16" fill="#000"/><rect x="546" y="128" width="1" height="10" fill="#000"/><rect x="544" y="130" width="5" height="2" fill="#000"/><rect x="554" y="116" width="1" height="21" fill="#000"/><rect x="552" y="117" width="5" height="14" fill="#000"/><rect x="553" y="118" width="3" height="12" fill="#fff"/><rect x="562" y="89" width="1" height="40" fill="#000"/><rect x="560" y="95" width="5" height="22" fill="#000"/><rect x="561" y="96" width="3" height="20" fill="#fff"/><rect x="570" y="82" width="1" height="23" fill="#000"/><rect x="568" y="84" width="5" height="12" fill="#000"/><rect x="569" y="85" width="3" height="10" fill="#fff"/><rect x="578" y="79" width="1" height="49" fill="#000"/><rect x="576" y="83" width="5" height="40" fill="#000"/><rect x="586" y="109" width="1" height="22" fill="#000"/><rect x="584" y="122" width="5" height="2" fill="#000"/><rect x="594" y="127" width="1" height="8" fill="#000"/><rect x="592" y="131" width="5" height="3" fill="#000"/><rect x="593" y="132" width="3" height="1" fill="#fff"/><rect x="602" y="122" width="1" height="22" fill="#000"/><rect x="600" y="128" width="5" height="2" fill="#000"/><rect x="610" y="128" width="1" height="45" fill="#000"/><rect x="608" y="128" width="5" height="25" fill="#000"/><rect x="618" y="136" width="1" height="27" fill="#000"/><rect x="616" y="144" width="5" height="8" fill="#000"/><rect x="617" y="145" width="3" height="6" fill="#fff"/><rect x="626" y="117" width="1" height="39" fill="#000"/><rect x="624" y="125" width="5" height="20" fill="#000"/><rect x="625" y="126" width="3" height="18" fill="#fff"/><rect x="634" y="123" width="1" height="21" fill="#000"/><rect x="632" y="125" width="5" height="9" fill="#000"/><rect x="642" y="126" width="1" height="10" fill="#000"/><rect x="640" y="131" width="5" height="3" fill="#000"/><rect x="641" y="132" width="3" height="1" fill="#fff"/><rect x="650" y="118" width="1" height="17" fill="#000"/><rect x="648" y="123" width="5" height="9" fill="#000"/><rect x="649" y="124" width="3" height="7" fill="#fff"/><rect x="658" y="85" width="1" height="55" fill="#000"/><rect x="656" y="91" width="5" height="32" fill="#000"/><rect x="657" y="92" width="3" height="30" fill="#fff"/><rect x="666" y="87" width="1" height="30" fill="#000"/><rect x="664" y="91" width="5" height="25" fill="#000"/><rect x="674" y="54" width="1" height="76" fill="#000"/><rect x="672" y="115" width="5" height="7" fill="#000"/><rect x="682" y="111" width="1" height="56" fill="#000"/><rect x="680" y="121" width="5" height="42" fill="#000"/><rect x="690" y="160" width="1" height="7" fill="#000"/><rect x="688" y="161" width="5" height="1" fill="#000"/><rect x="698" y="156" width="1" height="22" fill="#000"/><rect x="696" y="161" width="5" height="4" fill="#000"/><rect x="706" y="131" width="1" height="41" fill="#000"/><rect x="704" y="142" width="5" height="23" fill="#000"/><rect x="705" y="143" width="3" height="21" fill="#fff"/><rect x="714" y="126" width="1" height="29" fill="#000"/><rect x="712" y="142" width="5" height="3" fill="#000"/><rect x="722" y="115" width="1" height="42" fill="#000"/><rect x="720" y="134" width="5" height="11" fill="#000"/><rect x="721" y="135" width="3" height="9" fill="#fff"/><rect x="730" y="122" width="1" height="23" fill="#000"/><rect x="728" y="122" width="5" height="11" fill="#000"/><rect x="729" y="123" width="3" height="9" fill="#fff"/><rect x="738" y="116" width="1" height="20" fill="#000"/><rect x="736" y="120" width="5" height="3" fill="#000"/><rect x="737" y="121" width="3" height="1" fill="#fff"/><rect x="746" y="119" width="1" height="16" fill="#000"/><rect x="744" y="121" width="5" height="13" fill="#000"/><rect x="754" y="131" width="1" height="27" fill="#000"/><rect x="752" y="134" width="5" height="14" fill="#000"/><rect x="762" y="127" width="1" height="37" fill="#000"/><rect x="760" y="131" width="5" height="17" fill="#000"/><rect x="761" y="132" width="3" height="15" fill="#fff"/><rect x="770" y="130" width="1" height="76" fill="#000"/><rect x="768" y="131" width="5" height="55" fill="#000"/><rect x="778" y="167" width="1" height="29" fill="#000"/><rect x="776" y="176" width="5" height="10" fill="#000"/><rect x="777" y="177" width="3" height="8" fill="#fff"/><rect x="786" y="170" width="1" height="14" fill="#000"/><rect x="784" y="173" width="5" height="4" fill="#000"/><rect x="785" y="174" width="3" height="2" fill="#fff"/><rect x="794" y="170" width="1" height="17" fill="#000"/><rect x="792" y="172" width="5" height="2" fill="#000"/><rect x="802" y="159" width="1" height="23" fill="#000"/><rect x="800" y="173" width="5" height="6" fill="#000"/><rect x="810" y="156" width="1" height="39" fill="#000"/><rect x="808" y="173" width="5" height="6" fill="#000"/><rect x="809" y="174" width="3" height="4" fill="#fff"/><rect x="818" y="162" width="1" height="68" fill="#000"/><rect x="816" y="172" width="5" height="44" fill="#000"/><rect x="826" y="206" width="1" height="29" fill="#000"/><rect x="824" y="215" width="5" height="18" fill="#000"/><rect x="834" y="240" width="1" height="7" fill="#000"/><rect x="832" y="243" width="5" height="1" fill="#000"/><rect x="842" y="240" width="1" height="31" fill="#000"/><rect x="840" y="243" width="5" height="19" fill="#000"/><rect x="850" y="256" width="1" height="51" fill="#000"/><rect x="848" y="261" width="5" height="42" fill="#000"/><rect x="858" y="271" width="1" height="45" fill="#000"/><rect x="856" y="302" width="5" height="13" fill="#000"/><rect x="866" y="286" width="1" height="41" fill="#000"/><rect x="864" y="314" width="5" height="3" fill="#000"/><rect x="874" y="306" width="1" height="27" fill="#000"/><rect x="872" y="307" width="5" height="9" fill="#000"/><rect x="873" y="308" width="3" height="7" fill="#fff"/><rect x="882" y="307" width="1" height="23" fill="#000"/><rect x="880" y="307" width="5" height="3" fill="#000"/><rect x="890" y="298" width="1" height="26" fill="#000"/><rect x="888" y="302" width="5" height="8" fill="#000"/><rect x="889" y="303" width="3" height="6" fill="#fff"/><rect x="898" y="283" width="1" height="27" fill="#000"/><rect x="896" y="290" width="5" height="12" fill="#000"/><rect x="897" y="291" width="3" height="10" fill="#fff"/><rect x="906" y="279" width="1" height="19" fill="#000"/><rect x="904" y="289" width="5" height="5" fill="#000"/><rect x="914" y="282" width="1" height="51" fill="#000"/><rect x="912" y="293" width="5" height="16" fill="#000"/><rect x="922" y="297" width="1" height="26" fill="#000"/><rect x="920" y="308" width="5" height="2" fill="#000"/><rect x="930" y="308" width="1" height="11" fill="#000"/><rect x="928" y="309" width="5" height="7" fill="#000"/><rect x="938" y="294" width="1" height="31" fill="#000"/><rect x="936" y="315" width="5" height="8" fill="#000"/><rect x="946" y="312" width="1" height="28" fill="#000"/><rect x="944" y="322" width="5" height="16" fill="#000"/><rect x="954" y="322" width="1" height="21" fill="#000"/><rect x="952" y="332" width="5" height="5" fill="#000"/><rect x="953" y="333" width="3" height="3" fill="#fff"/><rect x="962" y="303" width="1" height="55" fill="#000"/><rect x="960" y="305" width="5" height="27" fill="#000"/><rect x="961" y="306" width="3" height="25" fill="#fff"/><rect x="970" y="282" width="1" height="83" fill="#000"/><rect x="968" y="304" width="5" height="52" fill="#000"/><rect x="978" y="349" width="1" height="15" fill="#000"/><rect x="976" y="355" width="5" height="2" fill="#000"/><rect x="986" y="327" width="1" height="35" fill="#000"/><rect x="984" y="331" width="5" height="24" fill="#000"/><rect x="985" y="332" width="3" height="22" fill="#fff"/><rect x="994" y="314" width="1" height="26" fill="#000"/><rect x="992" y="316" width="5" height="16" fill="#000"/><rect x="993" y="317" width="3" height="14" fill="#fff"/><rect x="1002" y="251" width="1" height="74" fill="#000"/><rect x="1000" y="254" width="5" height="62" fill="#000"/><rect x="1001" y="255" width="3" height="60" fill="#fff"/><rect x="1010" y="221" width="1" height="48" fill="#000"/><rect x="1008" y="226" width="5" height="27" fill="#000"/><rect x="1009" y="227" width="3" height="25" fill="#fff"/><rect x="1018" y="220" width="1" height="29" fill="#000"/><rect x="1016" y="226" width="5" height="21" fill="#000"/><rect x="1026" y="243" width="1" height="13" fill="#000"/><rect x="1024" y="247" width="5" height="4" fill="#000"/><rect x="1034" y="234" width="1" height="21" fill="#000"/><rect x="1032" y="247" width="5" height="3" fill="#000"/><rect x="1033" y="248" width="3" height="1" fill="#fff"/><rect x="1042" y="243" width="1" height="26" fill="#000"/><rect x="1040" y="247" width="5" height="16" fill="#000"/><rect x="1050" y="250" width="1" height="51" fill="#000"/><rect x="1048" y="262" width="5" height="35" fill="#000"/><rect x="1058" y="276" width="1" height="39" fill="#000"/><rect x="1056" y="291" width="5" height="6" fill="#000"/><rect x="1057" y="292" width="3" height="4" fill="#fff"/><rect x="1066" y="281" width="1" height="33" fill="#000"/><rect x="1064" y="291" width="5" height="22" fill="#000"/><rect x="1074" y="301" width="1" height="10" fill="#000"/><rect x="1072" y="302" width="5" height="3" fill="#000"/><rect x="1082" y="292" width="1" height="17" fill="#000"/><rect x="1080" y="299" width="5" height="5" fill="#000"/><rect x="1081" y="300" width="3" height="3" fill="#fff"/><rect x="1090" y="275" width="1" height="40" fill="#000"/><rect x="1088" y="291" width="5" height="8" fill="#000"/><rect x="1089" y="292" width="3" height="6" fill="#fff"/><rect x="1098" y="258" width="1" height="35" fill="#000"/><rect x="1096" y="285" width="5" height="7" fill="#000"/><rect x="1097" y="286" width="3" height="5" fill="#fff"/><rect x="1106" y="242" width="1" height="50" fill="#000"/><rect x="1104" y="260" width="5" height="25" fill="#000"/><rect x="1105" y="261" width="3" height="23" fill="#fff"/><rect x="1114" y="255" width="1" height="17" fill="#000"/><rect x="1112" y="259" width="5" height="9" fill="#000"/><rect x="1122" y="264" width="1" height="14" fill="#000"/><rect x="1120" y="267" width="5" height="5" fill="#000"/><rect x="1130" y="264" width="1" height="21" fill="#000"/><rect x="1128" y="267" width="5" height="5" fill="#000"/><rect x="1129" y="268" width="3" height="3" fill="#fff"/><rect x="1138" y="254" width="1" height="53" fill="#000"/><rect x="1136" y="267" width="5" height="28" fill="#000"/><rect x="1146" y="294" width="1" height="87" fill="#000"/><rect x="1144" y="294" width="5" height="84" fill="#000"/><rect x="1154" y="376" width="1" height="76" fill="#000"/><rect x="1152" y="376" width="5" height="64" fill="#000"/><rect x="1162" y="428" width="1" height="26" fill="#000"/><rect x="1160" y="435" width="5" height="5" fill="#000"/><rect x="1161" y="436" width="3" height="3" fill="#fff"/><rect x="1170" y="429" width="1" height="15" fill="#000"/><rect x="1168" y="433" width="5" height="3" fill="#000"/><rect x="1169" y="434" width="3" height="1" fill="#fff"/><rect x="1178" y="427" width="1" height="18" fill="#000"/><rect x="1176" y="429" width="5" height="4" fill="#000"/><rect x="1177" y="430" width="3" height="2" fill="#fff"/><rect x="1186" y="420" width="1" height="51" fill="#000"/><rect x="1184" y="428" width="5" height="29" fill="#000"/><rect x="1194" y="445" width="1" height="60" fill="#000"/><rect x="1192" y="456" width="5" height="31" fill="#000"/><rect x="1202" y="485" width="1" height="70" fill="#000"/><rect x="1200" y="486" width="5" height="55" fill="#000"/><rect x="1210" y="534" width="1" height="31" fill="#000"/><rect x="1208" y="539" width="5" height="22" fill="#000"/><rect x="1218" y="545" width="1" height="17" fill="#000"/><rect x="1216" y="551" width="5" height="10" fill="#000"/><rect x="1217" y="552" width="3" height="8" fill="#fff"/><rect x="1226" y="518" width="1" height="35" fill="#000"/><rect x="1224" y="522" width="5" height="29" fill="#000"/><rect x="1225" y="523" width="3" height="27" fill="#fff"/><rect x="1234" y="517" width="1" height="46" fill="#000"/><rect x="1232" y="522" width="5" height="12" fill="#000"/><rect x="1242" y="507" width="1" height="41" fill="#000"/><rect x="1240" y="528" width="5" height="7" fill="#000"/><rect x="1241" y="529" width="3" height="5" fill="#fff"/><rect x="1250" y="458" width="1" height="70" fill="#000"/><rect x="1248" y="507" width="5" height="20" fill="#000"/><rect x="1249" y="508" width="3" height="18" fill="#fff"/><rect x="1258" y="491" width="1" height="39" fill="#000"/><rect x="1256" y="504" width="5" height="3" fill="#000"/><rect x="1257" y="505" width="3" height="1" fill="#fff"/><rect x="1266" y="495" width="1" height="15" fill="#000"/><rect x="1264" y="503" width="5" height="5" fill="#000"/><rect x="1274" y="503" width="1" height="30" fill="#000"/><rect x="1272" y="508" width="5" height="14" fill="#000"/><rect x="1282" y="509" width="1" height="35" fill="#000"/><rect x="1280" y="515" width="5" height="7" fill="#000"/><rect x="1281" y="516" width="3" height="5" fill="#fff"/><rect x="1290" y="433" width="1" height="95" fill="#000"/><rect x="1288" y="435" width="5" height="80" fill="#000"/><rect x="1289" y="436" width="3" height="78" fill="#fff"/><rect x="1298" y="398" width="1" height="53" fill="#000"/><rect x="1296" y="404" width="5" height="31" fill="#000"/><rect x="1297" y="405" width="3" height="29" fill="#fff"/><rect x="1306" y="399" width="1" height="25" fill="#000"/><rect x="1304" y="404" width="5" height="17" fill="#000"/><rect x="1314" y="399" width="1" height="7" fill="#000"/><rect x="1312" y="404" width="5" height="1" fill="#000"/><rect x="1322" y="397" width="1" height="45" fill="#000"/><rect x="1320" y="405" width="5" height="36" fill="#000"/><rect x="1330" y="410" width="1" height="34" fill="#000"/><rect x="1328" y="412" width="5" height="29" fill="#000"/><rect x="1329" y="413" width="3" height="27" fill="#fff"/><rect x="1338" y="367" width="1" height="65" fill="#000"/><rect x="1336" y="368" width="5" height="44" fill="#000"/><rect x="1337" y="369" width="3" height="42" fill="#fff"/><rect x="1346" y="332" width="1" height="48" fill="#000"/><rect x="1344" y="368" width="5" height="5" fill="#000"/><rect x="1354" y="355" width="1" height="21" fill="#000"/><rect x="1352" y="360" width="5" height="14" fill="#000"/><rect x="1353" y="361" width="3" height="12" fill="#fff"/><rect x="1362" y="357" width="1" height="14" fill="#000"/><rect x="1360" y="360" width="5" height="6" fill="#000"/><rect x="1370" y="361" width="1" height="29" fill="#000"/><rect x="1368" y="367" width="5" height="11" fill="#000"/><rect x="1378" y="356" width="1" height="33" fill="#000"/><rect x="1376" y="365" width="5" height="13" fill="#000"/><rect x="1377" y="366" width="3" height="11" fill="#fff"/><rect x="1386" y="330" width="1" height="38" fill="#000"/><rect x="1384" y="355" width="5" height="10" fill="#000"/><rect x="1385" y="356" width="3" height="8" fill="#fff"/><rect x="1394" y="325" width="1" height="50" fill="#000"/><rect x="1392" y="333" width="5" height="20" fill="#000"/><rect x="1393" y="334" width="3" height="18" fill="#fff"/><rect x="1402" y="328" width="1" height="22" fill="#000"/><rect x="1400" y="333" width="5" height="17" fill="#000"/><rect x="1410" y="342" width="1" height="11" fill="#000"/><rect x="1408" y="346" width="5" height="4" fill="#000"/><rect x="1409" y="347" width="3" height="2" fill="#fff"/><rect x="1418" y="341" width="1" height="24" fill="#000"/><rect x="1416" y="347" width="5" height="12" fill="#000"/><rect x="1426" y="358" width="1" height="53" fill="#000"/><rect x="1424" y="359" width="5" height="52" fill="#000"/><rect x="1434" y="395" width="1" height="37" fill="#000"/><rect x="1432" y="402" width="5" height="9" fill="#000"/><rect x="1433" y="403" width="3" height="7" fill="#fff"/><rect x="1442" y="385" width="1" height="40" fill="#000"/><rect x="1440" y="402" width="5" height="7" fill="#000"/><rect x="1450" y="384" width="1" height="38" fill="#000"/><rect x="1448" y="385" width="5" height="24" fill="#000"/><rect x="1449" y="386" width="3" height="22" fill="#fff"/><rect x="1458" y="382" width="1" height="13" fill="#000"/><rect x="1456" y="385" width="5" height="8" fill="#000"/><rect x="1648" y="330" width="5" height="5" fill="#ff0000"/><rect x="1649" y="331" width="3" height="3" fill="#fff"/><rect x="1648" y="357" width="5" height="5" fill="#ff4500"/><rect x="1649" y="358" width="3" height="3" fill="#fff"/><rect x="1648" y="380" width="5" height="5" fill="#32cd32"/><rect x="1649" y="381" width="3" height="3" fill="#fff"/><rect x="1648" y="419" width="5" height="5" fill="#0000ff"/><rect x="1649" y="420" width="3" height="3" fill="#fff"/><rect x="1648" y="452" width="5" height="5" fill="#0000ff"/><rect x="1649" y="453" width="3" height="3" fill="#fff"/></svg><svg class="abs" style="left:0;top:582px" width="1653" height="169" viewBox="0 582 1653 169" shape-rendering="crispEdges"><rect x="2" y="633" width="1" height="4" fill="#c0c0c0"/><rect x="10" y="627" width="1" height="10" fill="#c0c0c0"/><rect x="18" y="622" width="1" height="15" fill="#c0c0c0"/><rect x="26" y="620" width="1" height="17" fill="#c0c0c0"/><rect x="34" y="619" width="1" height="18" fill="#c0c0c0"/><rect x="42" y="620" width="1" height="17" fill="#c0c0c0"/><rect x="50" y="624" width="1" height="13" fill="#c0c0c0"/><rect x="58" y="629" width="1" height="8" fill="#c0c0c0"/><rect x="66" y="633" width="1" height="4" fill="#c0c0c0"/><rect x="74" y="636" width="1" height="1" fill="#c0c0c0"/><rect x="90" y="636" width="1" height="1" fill="#c0c0c0"/><rect x="98" y="630" width="1" height="7" fill="#c0c0c0"/><rect x="106" y="626" width="1" height="11" fill="#c0c0c0"/><rect x="114" y="622" width="1" height="15" fill="#c0c0c0"/><rect x="122" y="619" width="1" height="18" fill="#c0c0c0"/><rect x="130" y="617" width="1" height="20" fill="#c0c0c0"/><rect x="138" y="617" width="1" height="20" fill="#c0c0c0"/><rect x="146" y="617" width="1" height="20" fill="#c0c0c0"/><rect x="154" y="617" width="1" height="20" fill="#c0c0c0"/><rect x="162" y="618" width="1" height="19" fill="#c0c0c0"/><rect x="170" y="617" width="1" height="20" fill="#c0c0c0"/><rect x="178" y="614" width="1" height="23" fill="#c0c0c0"/><rect x="186" y="612" width="1" height="25" fill="#c0c0c0"/><rect x="194" y="615" width="1" height="22" fill="#c0c0c0"/><rect x="202" y="619" width="1" height="18" fill="#c0c0c0"/><rect x="210" y="622" width="1" height="15" fill="#c0c0c0"/><rect x="218" y="626" width="1" height="11" fill="#c0c0c0"/><rect x="226" y="626" width="1" height="11" fill="#c0c0c0"/><rect x="234" y="627" width="1" height="10" fill="#c0c0c0"/><rect x="242" y="624" width="1" height="13" fill="#c0c0c0"/><rect x="250" y="624" width="1" height="13" fill="#c0c0c0"/><rect x="258" y="623" width="1" height="14" fill="#c0c0c0"/><rect x="266" y="622" width="1" height="15" fill="#c0c0c0"/><rect x="274" y="621" width="1" height="16" fill="#c0c0c0"/><rect x="282" y="619" width="1" height="18" fill="#c0c0c0"/><rect x="290" y="614" width="1" height="23" fill="#c0c0c0"/><rect x="298" y="608" width="1" height="29" fill="#c0c0c0"/><rect x="306" y="605" width="1" height="32" fill="#c0c0c0"/><rect x="314" y="602" width="1" height="35" fill="#c0c0c0"/><rect x="322" y="602" width="1" height="35" fill="#c0c0c0"/><rect x="330" y="602" width="1" height="35" fill="#c0c0c0"/><rect x="338" y="597" width="1" height="40" fill="#c0c0c0"/><rect x="346" y="592" width="1" height="45" fill="#c0c0c0"/><rect x="354" y="591" width="1" height="46" fill="#c0c0c0"/><rect x="362" y="592" width="1" height="45" fill="#c0c0c0"/><rect x="370" y="595" width="1" height="42" fill="#c0c0c0"/><rect x="378" y="596" width="1" height="41" fill="#c0c0c0"/><rect x="386" y="602" width="1" height="35" fill="#c0c0c0"/><rect x="394" y="605" width="1" height="32" fill="#c0c0c0"/><rect x="402" y="606" width="1" height="31" fill="#c0c0c0"/><rect x="410" y="607" width="1" height="30" fill="#c0c0c0"/><rect x="418" y="610" width="1" height="27" fill="#c0c0c0"/><rect x="426" y="620" width="1" height="17" fill="#c0c0c0"/><rect x="434" y="626" width="1" height="11" fill="#c0c0c0"/><rect x="442" y="632" width="1" height="5" fill="#c0c0c0"/><rect x="458" y="636" width="1" height="4" fill="#c0c0c0"/><rect x="466" y="636" width="1" height="8" fill="#c0c0c0"/><rect x="474" y="636" width="1" height="12" fill="#c0c0c0"/><rect x="482" y="636" width="1" height="15" fill="#c0c0c0"/><rect x="490" y="636" width="1" height="16" fill="#c0c0c0"/><rect x="498" y="636" width="1" height="17" fill="#c0c0c0"/><rect x="506" y="636" width="1" height="19" fill="#c0c0c0"/><rect x="514" y="636" width="1" height="16" fill="#c0c0c0"/><rect x="522" y="636" width="1" height="8" fill="#c0c0c0"/><rect x="530" y="636" width="1" height="1" fill="#c0c0c0"/><rect x="538" y="631" width="1" height="6" fill="#c0c0c0"/><rect x="546" y="628" width="1" height="9" fill="#c0c0c0"/><rect x="554" y="623" width="1" height="14" fill="#c0c0c0"/><rect x="562" y="617" width="1" height="20" fill="#c0c0c0"/><rect x="570" y="611" width="1" height="26" fill="#c0c0c0"/><rect x="578" y="611" width="1" height="26" fill="#c0c0c0"/><rect x="586" y="612" width="1" height="25" fill="#c0c0c0"/><rect x="594" y="614" width="1" height="23" fill="#c0c0c0"/><rect x="602" y="615" width="1" height="22" fill="#c0c0c0"/><rect x="610" y="620" width="1" height="17" fill="#c0c0c0"/><rect x="618" y="622" width="1" height="15" fill="#c0c0c0"/><rect x="626" y="622" width="1" height="15" fill="#c0c0c0"/><rect x="634" y="624" width="1" height="13" fill="#c0c0c0"/><rect x="642" y="624" width="1" height="13" fill="#c0c0c0"/><rect x="650" y="624" width="1" height="13" fill="#c0c0c0"/><rect x="658" y="619" width="1" height="18" fill="#c0c0c0"/><rect x="666" y="619" width="1" height="18" fill="#c0c0c0"/><rect x="674" y="621" width="1" height="16" fill="#c0c0c0"/><rect x="682" y="626" width="1" height="11" fill="#c0c0c0"/><rect x="690" y="631" width="1" height="6" fill="#c0c0c0"/><rect x="698" y="635" width="1" height="2" fill="#c0c0c0"/><rect x="706" y="636" width="1" height="1" fill="#c0c0c0"/><rect x="722" y="636" width="1" height="1" fill="#c0c0c0"/><rect x="730" y="634" width="1" height="3" fill="#c0c0c0"/><rect x="738" y="632" width="1" height="5" fill="#c0c0c0"/><rect x="746" y="632" width="1" height="5" fill="#c0c0c0"/><rect x="754" y="634" width="1" height="3" fill="#c0c0c0"/><rect x="762" y="634" width="1" height="3" fill="#c0c0c0"/><rect x="770" y="636" width="1" height="3" fill="#c0c0c0"/><rect x="778" y="636" width="1" height="7" fill="#c0c0c0"/><rect x="786" y="636" width="1" height="10" fill="#c0c0c0"/><rect x="794" y="636" width="1" height="12" fill="#c0c0c0"/><rect x="802" y="636" width="1" height="14" fill="#c0c0c0"/><rect x="810" y="636" width="1" height="14" fill="#c0c0c0"/><rect x="818" y="636" width="1" height="19" fill="#c0c0c0"/><rect x="826" y="636" width="1" height="27" fill="#c0c0c0"/><rect x="834" y="636" width="1" height="33" fill="#c0c0c0"/><rect x="842" y="636" width="1" height="39" fill="#c0c0c0"/><rect x="850" y="636" width="1" height="49" fill="#c0c0c0"/><rect x="858" y="636" width="1" height="58" fill="#c0c0c0"/><rect x="866" y="636" width="1" height="65" fill="#c0c0c0"/><rect x="874" y="636" width="1" height="68" fill="#c0c0c0"/><rect x="882" y="636" width="1" height="70" fill="#c0c0c0"/><rect x="890" y="636" width="1" height="70" fill="#c0c0c0"/><rect x="898" y="636" width="1" height="67" fill="#c0c0c0"/><rect x="906" y="636" width="1" height="65" fill="#c0c0c0"/><rect x="914" y="636" width="1" height="64" fill="#c0c0c0"/><rect x="922" y="636" width="1" height="63" fill="#c0c0c0"/><rect x="930" y="636" width="1" height="63" fill="#c0c0c0"/><rect x="938" y="636" width="1" height="63" fill="#c0c0c0"/><rect x="946" y="636" width="1" height="63" fill="#c0c0c0"/><rect x="954" y="636" width="1" height="62" fill="#c0c0c0"/><rect x="962" y="636" width="1" height="57" fill="#c0c0c0"/><rect x="970" y="636" width="1" height="59" fill="#c0c0c0"/><rect x="978" y="636" width="1" height="60" fill="#c0c0c0"/><rect x="986" y="636" width="1" height="57" fill="#c0c0c0"/><rect x="994" y="636" width="1" height="52" fill="#c0c0c0"/><rect x="1002" y="636" width="1" height="40" fill="#c0c0c0"/><rect x="1010" y="636" width="1" height="26" fill="#c0c0c0"/><rect x="1018" y="636" width="1" height="18" fill="#c0c0c0"/><rect x="1026" y="636" width="1" height="12" fill="#c0c0c0"/><rect x="1034" y="636" width="1" height="6" fill="#c0c0c0"/><rect x="1042" y="636" width="1" height="4" fill="#c0c0c0"/><rect x="1050" y="636" width="1" height="6" fill="#c0c0c0"/><rect x="1058" y="636" width="1" height="7" fill="#c0c0c0"/><rect x="1066" y="636" width="1" height="11" fill="#c0c0c0"/><rect x="1074" y="636" width="1" height="13" fill="#c0c0c0"/><rect x="1082" y="636" width="1" height="10" fill="#c0c0c0"/><rect x="1090" y="636" width="1" height="11" fill="#c0c0c0"/><rect x="1098" y="636" width="1" height="9" fill="#c0c0c0"/><rect x="1106" y="636" width="1" height="6" fill="#c0c0c0"/><rect x="1114" y="636" width="1" height="3" fill="#c0c0c0"/><rect x="1130" y="636" width="1" height="1" fill="#c0c0c0"/><rect x="1146" y="636" width="1" height="14" fill="#c0c0c0"/><rect x="1154" y="636" width="1" height="31" fill="#c0c0c0"/><rect x="1162" y="636" width="1" height="43" fill="#c0c0c0"/><rect x="1170" y="636" width="1" height="52" fill="#c0c0c0"/><rect x="1178" y="636" width="1" height="58" fill="#c0c0c0"/><rect x="1186" y="636" width="1" height="66" fill="#c0c0c0"/><rect x="1194" y="636" width="1" height="75" fill="#c0c0c0"/><rect x="1202" y="636" width="1" height="87" fill="#c0c0c0"/><rect x="1210" y="636" width="1" height="99" fill="#c0c0c0"/><rect x="1218" y="636" width="1" height="106" fill="#c0c0c0"/><rect x="1226" y="636" width="1" height="106" fill="#c0c0c0"/><rect x="1234" y="636" width="1" height="107" fill="#c0c0c0"/><rect x="1242" y="636" width="1" height="105" fill="#c0c0c0"/><rect x="1250" y="636" width="1" height="100" fill="#c0c0c0"/><rect x="1258" y="636" width="1" height="95" fill="#c0c0c0"/><rect x="1266" y="636" width="1" height="90" fill="#c0c0c0"/><rect x="1274" y="636" width="1" height="87" fill="#c0c0c0"/><rect x="1282" y="636" width="1" height="83" fill="#c0c0c0"/><rect x="1290" y="636" width="1" height="68" fill="#c0c0c0"/><rect x="1298" y="636" width="1" height="53" fill="#c0c0c0"/><rect x="1306" y="636" width="1" height="42" fill="#c0c0c0"/><rect x="1314" y="636" width="1" height="31" fill="#c0c0c0"/><rect x="1322" y="636" width="1" height="26" fill="#c0c0c0"/><rect x="1330" y="636" width="1" height="19" fill="#c0c0c0"/><rect x="1338" y="636" width="1" height="7" fill="#c0c0c0"/><rect x="1346" y="635" width="1" height="2" fill="#c0c0c0"/><rect x="1354" y="627" width="1" height="10" fill="#c0c0c0"/><rect x="1362" y="622" width="1" height="15" fill="#c0c0c0"/><rect x="1370" y="619" width="1" height="18" fill="#c0c0c0"/><rect x="1378" y="616" width="1" height="21" fill="#c0c0c0"/><rect x="1386" y="611" width="1" height="26" fill="#c0c0c0"/><rect x="1394" y="607" width="1" height="30" fill="#c0c0c0"/><rect x="1402" y="604" width="1" height="33" fill="#c0c0c0"/><rect x="1410" y="603" width="1" height="34" fill="#c0c0c0"/><rect x="1418" y="604" width="1" height="33" fill="#c0c0c0"/><rect x="1426" y="612" width="1" height="25" fill="#c0c0c0"/><rect x="1434" y="617" width="1" height="20" fill="#c0c0c0"/><rect x="1442" y="621" width="1" height="16" fill="#c0c0c0"/><rect x="1450" y="622" width="1" height="15" fill="#c0c0c0"/><rect x="1458" y="623" width="1" height="14" fill="#c0c0c0"/><path d="M427 603h2v1h-2zM896 694h1v1h-1zM996 694h3v1h-3zM1210 694h1v1h-1zM1328 693h1v2h-1zM151 621h2v1h-2zM253 621h2v1h-2zM288 621h3v1h-3zM678 621h3v1h-3zM684 621h2v1h-2zM547 643h2v1h-2zM1128 643h3v1h-3zM1134 643h3v1h-3zM1140 643h3v1h-3zM1146 643h2v1h-2zM12 635h2v1h-2zM486 635h1v1h-1zM564 635h2v1h-2zM774 635h3v1h-3zM780 635h2v1h-2zM1380 635h2v1h-2zM325 610h2v1h-2zM1422 610h2v1h-2zM1427 610h3v1h-3zM1446 610h2v1h-2zM1451 610h3v1h-3zM145 623h2v1h-2zM271 623h2v1h-2zM276 623h3v1h-3zM464 623h1v1h-1zM588 623h1v1h-1zM692 623h1v1h-1zM1398 623h1v1h-1zM504 644h1v1h-1zM546 644h1v1h-1zM816 644h3v1h-3zM1118 644h1v1h-1zM1122 644h3v1h-3zM1148 644h1v1h-1zM1369 644h1v1h-1zM354 600h3v1h-3zM420 600h2v1h-2zM150 622h1v1h-1zM258 622h3v1h-3zM264 622h3v1h-3zM270 622h1v1h-1zM282 622h3v1h-3zM462 622h2v1h-2zM589 622h2v1h-2zM686 622h1v1h-1zM690 622h2v1h-2zM1399 622h1v1h-1zM55 624h2v1h-2zM60 624h3v1h-3zM66 624h3v1h-3zM144 624h1v1h-1zM696 624h3v1h-3zM1397 624h1v1h-1zM31 628h2v1h-2zM96 628h3v1h-3zM102 628h1v1h-1zM126 628h3v1h-3zM577 628h2v1h-2zM720 628h3v1h-3zM1391 628h2v1h-2zM888 688h2v1h-2zM1010 688h1v1h-1zM1205 688h1v1h-1zM1333 687h1v2h-1zM175 616h2v1h-2zM180 616h3v1h-3zM210 616h3v1h-3zM216 616h3v1h-3zM222 616h1v1h-1zM308 616h1v1h-1zM451 616h2v1h-2zM606 616h3v1h-3zM612 616h2v1h-2zM630 616h3v1h-3zM636 616h2v1h-2zM1409 616h1v1h-1zM870 674h1v1h-1zM1032 674h2v1h-2zM1194 674h1v1h-1zM1344 674h1v2h-1zM1063 651h2v1h-2zM1165 651h2v1h-2zM1364 650h1v2h-1zM372 596h3v1h-3zM402 596h3v1h-3zM319 612h2v1h-2zM445 612h2v1h-2zM1415 612h2v1h-2zM890 689h1v1h-1zM1009 689h1v1h-1zM36 627h3v1h-3zM90 627h3v1h-3zM132 627h3v1h-3zM710 627h1v1h-1zM714 627h3v1h-3zM1393 627h1v1h-1zM332 608h1v1h-1zM438 608h1v1h-1zM1044 665h1v1h-1zM505 645h2v1h-2zM542 645h1v1h-1zM1094 645h1v1h-1zM1098 645h3v1h-3zM1104 645h3v1h-3zM1110 645h3v1h-3zM1116 645h2v1h-2zM1152 645h3v1h-3zM1368 645h1v1h-1zM510 646h1v1h-1zM540 646h2v1h-2zM822 646h1v1h-1zM1080 646h3v1h-3zM1086 646h3v1h-3zM1092 646h2v1h-2zM1367 646h1v1h-1zM42 626h3v1h-3zM79 626h2v1h-2zM84 626h3v1h-3zM138 626h2v1h-2zM469 626h2v1h-2zM582 626h1v1h-1zM704 626h1v1h-1zM708 626h2v1h-2zM878 681h1v1h-1zM1021 681h2v1h-2zM1199 680h1v2h-1zM1339 681h1v1h-1zM156 620h3v1h-3zM247 620h2v1h-2zM252 620h1v1h-1zM294 620h3v1h-3zM458 620h1v1h-1zM594 620h2v1h-2zM672 620h3v1h-3zM330 609h2v1h-2zM439 609h2v1h-2zM1433 609h3v1h-3zM1439 609h3v1h-3zM1445 609h1v1h-1zM487 636h2v1h-2zM782 636h1v1h-1zM786 636h3v1h-3zM1379 636h1v1h-1zM1240 725h1v1h-1zM1296 725h1v1h-1zM366 597h3v1h-3zM408 597h3v1h-3zM162 619h3v1h-3zM234 619h3v1h-3zM240 619h3v1h-3zM246 619h1v1h-1zM300 619h1v1h-1zM457 619h1v1h-1zM596 619h1v1h-1zM656 619h1v1h-1zM660 619h3v1h-3zM666 619h3v1h-3zM1403 619h2v1h-2zM518 649h1v1h-1zM522 649h3v1h-3zM828 649h1v1h-1zM1068 649h3v1h-3zM836 653h1v1h-1zM1170 653h1v1h-1zM30 629h1v1h-1zM103 629h2v1h-2zM108 629h3v1h-3zM114 629h3v1h-3zM120 629h3v1h-3zM474 629h2v1h-2zM576 629h1v1h-1zM726 629h3v1h-3zM854 664h1v1h-1zM1045 664h2v1h-2zM1183 664h2v1h-2zM1352 663h1v2h-1zM24 631h1v1h-1zM571 631h2v1h-2zM738 631h3v1h-3zM1387 631h1v1h-1zM516 648h2v1h-2zM528 648h3v1h-3zM1074 648h2v1h-2zM1159 648h2v1h-2zM337 606h2v1h-2zM433 606h2v1h-2zM348 602h3v1h-3zM426 602h1v1h-1zM186 615h3v1h-3zM192 615h3v1h-3zM198 615h3v1h-3zM204 615h3v1h-3zM312 615h1v1h-1zM450 615h1v1h-1zM614 615h1v1h-1zM618 615h3v1h-3zM624 615h3v1h-3zM1410 615h1v1h-1zM343 604h2v1h-2zM168 618h1v1h-1zM229 618h2v1h-2zM301 618h2v1h-2zM456 618h1v1h-1zM654 618h2v1h-2zM1405 618h1v1h-1zM913 700h2v1h-2zM950 700h1v1h-1zM954 700h3v1h-3zM1214 700h1v1h-1zM1323 700h1v1h-1zM848 659h1v1h-1zM1051 659h2v1h-2zM1177 659h1v1h-1zM859 668h2v1h-2zM1188 668h1v1h-1zM1349 668h1v1h-1zM1264 736h3v1h-3zM1270 736h3v1h-3zM1276 736h1v1h-1zM864 670h1v1h-1zM1038 670h1v1h-1zM1190 670h1v1h-1zM1347 670h1v1h-1zM1050 660h1v1h-1zM1178 660h1v1h-1zM48 625h3v1h-3zM54 625h1v1h-1zM72 625h3v1h-3zM78 625h1v1h-1zM140 625h1v1h-1zM468 625h1v1h-1zM583 625h2v1h-2zM702 625h2v1h-2zM18 633h1v1h-1zM481 633h2v1h-2zM750 633h3v1h-3zM756 633h3v1h-3zM762 633h3v1h-3zM1385 633h1v1h-1zM511 647h2v1h-2zM534 647h3v1h-3zM823 647h2v1h-2zM1076 647h1v1h-1zM1158 647h1v1h-1zM1235 721h1v1h-1zM1301 721h2v1h-2zM918 701h3v1h-3zM924 701h2v1h-2zM942 701h3v1h-3zM948 701h2v1h-2zM847 658h1v1h-1zM1176 658h1v1h-1zM1357 658h1v1h-1zM6 637h3v1h-3zM792 637h1v1h-1zM895 693h1v1h-1zM1002 693h1v1h-1zM1209 693h1v1h-1zM906 697h2v1h-2zM978 697h3v1h-3zM984 697h3v1h-3zM19 632h2v1h-2zM480 632h1v1h-1zM570 632h1v1h-1zM744 632h3v1h-3zM1386 632h1v1h-1zM1236 722h1v1h-1zM1300 722h1v1h-1zM872 676h1v1h-1zM1028 676h1v1h-1zM1196 676h1v1h-1zM1343 676h1v1h-1zM865 671h2v1h-2zM169 617h2v1h-2zM174 617h1v1h-1zM223 617h2v1h-2zM228 617h1v1h-1zM306 617h2v1h-2zM600 617h3v1h-3zM638 617h1v1h-1zM642 617h3v1h-3zM648 617h3v1h-3zM876 680h2v1h-2zM1340 680h1v1h-1zM2 638h1v1h-1zM492 638h1v1h-1zM559 638h2v1h-2zM793 638h2v1h-2zM846 657h1v1h-1zM1358 657h1v1h-1zM858 667h1v1h-1zM361 598h2v1h-2zM414 598h3v1h-3zM378 595h3v1h-3zM384 595h3v1h-3zM390 595h3v1h-3zM396 595h3v1h-3zM908 698h1v1h-1zM966 698h3v1h-3zM972 698h3v1h-3zM1213 698h1v2h-1zM1325 698h1v1h-1zM25 630h2v1h-2zM476 630h1v1h-1zM732 630h3v1h-3zM871 675h1v1h-1zM1195 675h1v1h-1zM1223 711h1v1h-1zM1312 711h1v1h-1zM841 655h2v1h-2zM1057 655h1v1h-1zM1172 655h1v1h-1zM834 652h2v1h-2zM1062 652h1v1h-1zM1363 652h1v1h-1zM14 634h1v1h-1zM566 634h1v1h-1zM768 634h3v1h-3zM0 639h2v1h-2zM493 639h2v1h-2zM558 639h1v1h-1zM798 639h2v1h-2zM1375 639h1v1h-1zM900 696h3v1h-3zM990 696h2v1h-2zM1288 731h1v1h-1zM912 699h1v1h-1zM960 699h3v1h-3zM1324 699h1v1h-1zM1056 656h1v1h-1zM1359 656h1v1h-1zM1026 677h2v1h-2zM1217 705h1v1h-1zM1319 705h1v1h-1zM1039 669h2v1h-2zM1189 669h1v1h-1zM1348 669h1v1h-1zM882 685h2v1h-2zM1016 685h1v1h-1zM324 611h1v1h-1zM444 611h1v1h-1zM1417 611h1v1h-1zM1421 611h1v1h-1zM1457 611h1v1h-1zM1008 690h1v1h-1zM1254 733h1v1h-1zM1283 733h2v1h-2zM1260 735h1v1h-1zM1277 735h2v1h-2zM1246 729h1v1h-1zM1290 729h1v1h-1zM894 692h1v1h-1zM1003 692h2v1h-2zM1208 692h1v1h-1zM1329 692h1v1h-1zM853 663h1v1h-1zM1182 663h1v1h-1zM1247 730h2v1h-2zM1289 730h1v1h-1zM313 614h2v1h-2zM1411 614h1v1h-1zM1242 727h1v1h-1zM1294 727h1v1h-1zM800 640h1v1h-1zM804 640h2v1h-2zM1374 640h1v1h-1zM1252 732h2v1h-2zM840 654h1v1h-1zM1058 654h1v1h-1zM1171 654h1v1h-1zM852 662h1v1h-1zM1353 662h1v1h-1zM360 599h1v1h-1zM829 650h2v1h-2zM1164 650h1v1h-1zM342 605h1v1h-1zM432 605h1v1h-1zM499 642h2v1h-2zM552 642h1v1h-1zM812 642h1v1h-1zM926 702h1v1h-1zM930 702h3v1h-3zM936 702h3v1h-3zM992 695h1v1h-1zM1229 716h1v1h-1zM1307 716h1v1h-1zM1216 704h1v1h-1zM1320 704h1v1h-1zM1314 709h1v1h-1zM1034 673h1v1h-1zM498 641h1v1h-1zM553 641h2v1h-2zM806 641h1v1h-1zM810 641h2v1h-2zM1373 641h1v1h-1zM1020 682h1v1h-1zM1200 682h1v1h-1zM1338 682h1v1h-1zM884 686h1v1h-1zM1014 686h2v1h-2zM1203 686h1v1h-1zM1334 686h1v1h-1zM1218 706h1v1h-1zM1318 706h1v1h-1zM1258 734h2v1h-2zM1282 734h1v1h-1zM1222 710h1v1h-1zM1313 710h1v1h-1zM422 601h1v1h-1zM1228 715h1v1h-1zM1308 715h1v1h-1zM1224 712h1v1h-1zM1234 720h1v1h-1zM1241 726h1v1h-1zM1295 726h1v1h-1zM336 607h1v1h-1zM1230 717h1v1h-1zM1306 717h1v1h-1zM318 613h1v1h-1zM1204 687h1v1h-1z" fill="#ff0000"/></svg><svg class="abs" style="left:0;top:754px" width="1653" height="173" viewBox="0 754 1653 173" shape-rendering="crispEdges"><line x1="1" y1="789.5" x2="1653" y2="789.5" stroke="#c0c0c0" stroke-width="1" stroke-dasharray="3 3"/><line x1="1" y1="840.5" x2="1653" y2="840.5" stroke="#c0c0c0" stroke-width="1" stroke-dasharray="3 3"/><line x1="1" y1="901.5" x2="1653" y2="901.5" stroke="#c0c0c0" stroke-width="1" stroke-dasharray="3 3"/><path d="M2 833h1v2h-1zM41 833h1v1h-1zM92 832h1v2h-1zM192 832h1v4h-1zM235 833h1v2h-1zM418 833h1v2h-1zM517 833h1v3h-1zM593 833h6v1h-6zM603 833h1v2h-1zM625 833h1v1h-1zM628 833h2v1h-2zM645 833h2v1h-2zM672 833h2v1h-2zM728 833h2v1h-2zM741 833h1v1h-1zM1001 832h1v3h-1zM1037 833h1v1h-1zM1105 832h1v2h-1zM1110 833h2v1h-2zM1295 833h1v1h-1zM1303 833h1v1h-1zM1309 833h2v1h-2zM1316 833h1v1h-1zM1331 832h1v2h-1zM1420 832h1v2h-1zM56 850h2v1h-2zM76 850h1v1h-1zM423 848h1v3h-1zM510 849h1v2h-1zM682 850h1v1h-1zM699 850h1v2h-1zM767 850h1v3h-1zM995 850h1v3h-1zM1062 850h1v1h-1zM1073 850h4v1h-4zM1139 850h1v3h-1zM1287 848h1v3h-1zM850 887h3v1h-3zM870 887h1v1h-1zM1192 887h2v1h-2zM1221 886h1v2h-1zM8 819h1v2h-1zM24 820h1v1h-1zM97 818h1v3h-1zM112 820h2v1h-2zM116 820h3v1h-3zM131 820h2v1h-2zM167 820h1v1h-1zM188 817h1v4h-1zM242 820h1v1h-1zM283 820h1v2h-1zM366 819h1v2h-1zM523 820h2v1h-2zM534 820h1v1h-1zM554 820h1v1h-1zM574 818h1v3h-1zM657 820h1v2h-1zM659 820h1v2h-1zM1389 820h2v1h-2zM1398 820h1v1h-1zM7 821h1v3h-1zM28 823h3v1h-3zM95 823h1v3h-1zM135 823h2v1h-2zM164 823h1v2h-1zM189 821h1v4h-1zM240 823h1v2h-1zM244 823h1v1h-1zM273 823h1v1h-1zM369 823h1v1h-1zM372 823h3v1h-3zM379 822h1v2h-1zM410 823h1v1h-1zM521 823h1v2h-1zM537 823h1v1h-1zM548 823h2v1h-2zM576 823h1v3h-1zM655 823h1v1h-1zM661 823h1v1h-1zM1009 823h1v1h-1zM1011 823h1v1h-1zM1338 823h3v1h-3zM1351 823h2v1h-2zM1357 823h4v1h-4zM1381 823h4v1h-4zM1402 823h9v1h-9zM49 844h1v2h-1zM79 845h1v2h-1zM216 844h1v2h-1zM219 845h1v2h-1zM422 845h1v3h-1zM512 845h1v2h-1zM679 844h1v2h-1zM703 845h1v1h-1zM754 845h1v1h-1zM765 844h1v3h-1zM997 844h1v3h-1zM1047 844h1v2h-1zM1089 845h3v1h-3zM1136 844h1v2h-1zM1288 844h1v4h-1zM1426 845h1v1h-1zM1429 845h4v1h-4zM1439 845h4v1h-4zM853 888h4v1h-4zM869 888h1v1h-1zM1194 888h1v1h-1zM1220 888h1v1h-1zM69 852h4v1h-4zM75 851h1v2h-1zM424 851h1v4h-1zM433 852h1v1h-1zM436 852h3v1h-3zM509 851h1v2h-1zM695 852h4v1h-4zM785 852h6v1h-6zM808 852h3v1h-3zM1065 852h1v1h-1zM1068 852h3v1h-3zM1286 851h1v4h-1zM5 826h1v3h-1zM35 826h1v1h-1zM94 826h1v3h-1zM143 826h8v1h-8zM159 826h4v1h-4zM190 825h1v3h-1zM239 825h1v2h-1zM246 826h1v1h-1zM270 826h1v1h-1zM382 826h1v2h-1zM404 826h2v1h-2zM412 825h1v2h-1zM520 825h1v3h-1zM577 826h1v2h-1zM653 826h1v1h-1zM663 826h1v1h-1zM1006 826h1v1h-1zM1014 826h1v1h-1zM1336 826h1v1h-1zM1366 826h2v1h-2zM1374 826h2v1h-2zM1415 826h1v1h-1zM26 822h2v1h-2zM96 821h1v2h-1zM134 822h1v1h-1zM165 822h1v1h-1zM241 821h1v2h-1zM243 821h1v2h-1zM274 822h9v1h-9zM368 822h1v1h-1zM375 822h2v1h-2zM522 821h1v2h-1zM536 822h1v1h-1zM550 822h2v1h-2zM575 821h1v2h-1zM656 822h1v1h-1zM660 822h1v1h-1zM1010 822h1v1h-1zM1353 822h4v1h-4zM1385 822h2v1h-2zM1401 822h1v1h-1zM44 837h1v1h-1zM90 837h1v1h-1zM193 836h1v4h-1zM209 837h2v1h-2zM225 837h1v2h-1zM419 835h1v3h-1zM516 836h1v3h-1zM605 836h1v2h-1zM621 837h1v1h-1zM675 836h1v2h-1zM722 837h1v1h-1zM745 837h1v1h-1zM762 837h1v1h-1zM1000 835h1v3h-1zM1042 837h1v1h-1zM1102 836h1v2h-1zM1121 837h4v1h-4zM1131 836h1v2h-1zM1291 837h1v1h-1zM1319 837h1v1h-1zM1327 837h1v1h-1zM1422 836h1v3h-1zM1450 837h3v1h-3zM821 869h2v1h-2zM958 869h1v3h-1zM966 868h1v2h-1zM983 868h1v2h-1zM1145 869h1v3h-1zM1250 869h3v1h-3zM1268 869h2v1h-2zM1279 869h1v1h-1zM4 829h1v2h-1zM38 829h1v2h-1zM93 829h1v3h-1zM191 828h1v4h-1zM237 829h1v2h-1zM249 830h1v2h-1zM263 830h4v1h-4zM385 830h1v2h-1zM391 830h2v1h-2zM416 830h1v2h-1zM519 828h1v3h-1zM583 830h5v1h-5zM650 830h1v1h-1zM666 830h2v1h-2zM737 830h2v1h-2zM1002 830h1v2h-1zM1018 830h3v1h-3zM1298 830h1v1h-1zM1314 830h1v1h-1zM1333 830h1v1h-1zM1419 830h1v2h-1zM425 855h1v3h-1zM430 855h1v1h-1zM447 855h12v1h-12zM488 855h1v1h-1zM494 855h2v1h-2zM507 855h1v2h-1zM769 855h1v3h-1zM778 855h2v1h-2zM801 855h3v1h-3zM812 855h1v2h-1zM993 855h1v1h-1zM1140 853h1v3h-1zM1285 855h1v3h-1zM53 848h2v1h-2zM77 848h1v2h-1zM511 847h1v2h-1zM681 848h1v2h-1zM701 848h1v1h-1zM766 847h1v3h-1zM996 847h1v3h-1zM1049 847h1v2h-1zM1053 848h4v1h-4zM1059 848h2v1h-2zM1081 848h3v1h-3zM1138 848h1v2h-1zM181 812h4v1h-4zM186 812h1v1h-1zM288 811h1v2h-1zM320 812h1v1h-1zM327 812h2v1h-2zM356 812h2v1h-2zM562 812h2v1h-2zM571 811h1v2h-1zM3 831h1v2h-1zM40 832h1v1h-1zM236 831h1v2h-1zM250 832h5v1h-5zM386 832h2v1h-2zM417 832h1v1h-1zM518 831h1v2h-1zM591 832h2v1h-2zM599 832h4v1h-4zM626 832h2v1h-2zM647 832h1v1h-1zM670 832h2v1h-2zM730 832h3v1h-3zM740 832h1v1h-1zM1025 832h6v1h-6zM1035 832h2v1h-2zM1108 832h2v1h-2zM1296 832h1v1h-1zM1301 832h2v1h-2zM1311 832h1v1h-1zM1315 831h1v2h-1zM833 874h3v1h-3zM894 874h1v2h-1zM909 874h2v1h-2zM956 874h1v3h-1zM969 874h1v2h-1zM980 873h1v2h-1zM1147 874h1v1h-1zM1246 873h1v2h-1zM6 824h1v2h-1zM33 825h2v1h-2zM138 825h5v1h-5zM151 825h8v1h-8zM163 825h1v1h-1zM245 824h1v2h-1zM271 825h1v1h-1zM381 825h1v1h-1zM406 825h2v1h-2zM654 824h1v2h-1zM662 824h1v2h-1zM1007 825h1v1h-1zM1013 825h1v1h-1zM1337 824h1v2h-1zM1345 825h3v1h-3zM1364 825h2v1h-2zM1376 825h2v1h-2zM1413 825h2v1h-2zM45 838h1v2h-1zM89 838h2v1h-2zM207 838h2v1h-2zM211 838h1v1h-1zM420 838h1v4h-1zM606 838h1v1h-1zM620 838h1v1h-1zM676 838h1v2h-1zM720 838h2v1h-2zM746 838h1v1h-1zM761 838h2v1h-2zM999 838h1v3h-1zM1043 838h1v2h-1zM1101 838h1v1h-1zM1132 838h1v2h-1zM1290 838h1v2h-1zM1320 838h1v1h-1zM1325 838h2v1h-2zM1449 838h1v1h-1zM1453 838h4v1h-4zM80 844h1v1h-1zM220 844h1v1h-1zM421 842h1v3h-1zM513 843h1v2h-1zM610 844h2v1h-2zM704 844h1v1h-1zM753 844h1v1h-1zM755 844h1v1h-1zM1092 844h3v1h-3zM1425 843h1v2h-1zM1433 844h6v1h-6zM1443 844h1v1h-1zM845 881h1v1h-1zM887 881h2v1h-2zM940 881h2v1h-2zM952 881h2v1h-2zM1152 880h1v2h-1zM1161 881h6v1h-6zM1183 881h1v1h-1zM1225 880h1v2h-1zM1233 881h3v1h-3zM248 829h1v1h-1zM267 829h1v1h-1zM384 829h1v1h-1zM393 829h4v1h-4zM415 829h1v1h-1zM578 829h5v1h-5zM651 828h1v2h-1zM665 828h1v2h-1zM1003 829h1v1h-1zM1017 829h1v1h-1zM1334 828h1v2h-1zM1418 828h1v2h-1zM47 841h1v2h-1zM82 841h2v1h-2zM194 841h5v1h-5zM213 841h1v1h-1zM222 841h1v2h-1zM514 841h1v2h-1zM608 841h1v1h-1zM616 841h2v1h-2zM677 840h1v2h-1zM706 841h5v1h-5zM715 841h2v1h-2zM749 841h2v1h-2zM758 841h1v1h-1zM763 839h1v3h-1zM998 841h1v3h-1zM1045 841h1v2h-1zM1099 840h1v2h-1zM1134 841h1v2h-1zM1289 840h1v4h-1zM1322 841h1v1h-1zM1424 841h1v2h-1zM1446 841h1v1h-1zM844 880h1v1h-1zM889 880h1v1h-1zM937 880h3v1h-3zM954 879h1v2h-1zM1167 880h6v1h-6zM1181 880h2v1h-2zM1229 880h4v1h-4zM1236 880h3v1h-3zM824 871h2v1h-2zM897 871h1v1h-1zM901 871h4v1h-4zM967 870h1v2h-1zM981 871h1v2h-1zM1248 871h1v1h-1zM1272 871h2v1h-2zM1275 871h2v1h-2zM25 821h1v1h-1zM114 821h2v1h-2zM133 821h1v1h-1zM166 821h1v1h-1zM367 821h1v1h-1zM377 821h2v1h-2zM535 821h1v1h-1zM552 821h2v1h-2zM1387 821h2v1h-2zM1399 821h2v1h-2zM428 857h1v1h-1zM461 857h1v1h-1zM486 857h1v1h-1zM498 857h5v1h-5zM506 857h1v1h-1zM774 857h2v1h-2zM813 857h1v2h-1zM991 857h1v1h-1zM1141 856h1v3h-1zM848 885h1v1h-1zM873 885h1v1h-1zM879 885h4v1h-4zM1189 885h2v1h-2zM1222 885h1v1h-1zM846 882h1v2h-1zM886 882h1v1h-1zM942 882h2v1h-2zM950 882h2v1h-2zM1153 882h1v1h-1zM1157 882h4v1h-4zM1184 882h2v1h-2zM1224 882h1v1h-1zM9 817h1v2h-1zM22 817h1v2h-1zM98 817h1v1h-1zM107 817h2v1h-2zM169 817h1v1h-1zM285 816h1v2h-1zM364 817h1v1h-1zM528 817h2v1h-2zM531 817h1v1h-1zM557 817h1v1h-1zM573 816h1v2h-1zM1394 817h1v1h-1zM0 836h1v1h-1zM43 835h1v2h-1zM91 834h1v3h-1zM226 836h5v1h-5zM622 836h1v1h-1zM634 836h5v1h-5zM723 836h2v1h-2zM744 836h1v1h-1zM1041 836h1v1h-1zM1117 836h4v1h-4zM1125 836h4v1h-4zM1292 836h1v1h-1zM1318 835h1v2h-1zM1328 836h1v1h-1zM37 828h1v1h-1zM238 827h1v2h-1zM247 827h1v2h-1zM268 828h1v1h-1zM383 828h1v1h-1zM397 828h4v1h-4zM414 828h1v1h-1zM578 828h1v1h-1zM1004 828h1v1h-1zM1016 828h1v1h-1zM1370 828h2v1h-2zM109 818h2v1h-2zM121 818h6v1h-6zM168 818h1v2h-1zM284 818h1v2h-1zM365 818h1v1h-1zM527 818h1v1h-1zM532 818h1v1h-1zM556 818h1v1h-1zM1392 818h2v1h-2zM1395 818h2v1h-2zM838 876h2v1h-2zM893 876h1v1h-1zM912 876h2v1h-2zM919 876h6v1h-6zM970 876h5v1h-5zM979 875h1v2h-1zM1148 875h1v2h-1zM1244 876h1v1h-1zM81 842h1v2h-1zM214 842h1v1h-1zM609 842h1v2h-1zM614 842h2v1h-2zM678 842h1v2h-1zM705 842h1v2h-1zM711 842h4v1h-4zM751 842h1v1h-1zM757 842h1v1h-1zM764 842h1v2h-1zM1097 842h2v1h-2zM1445 842h1v1h-1zM17 813h2v1h-2zM177 813h4v1h-4zM187 813h1v4h-1zM287 813h1v2h-1zM321 813h1v1h-1zM324 813h3v1h-3zM358 813h2v1h-2zM561 813h1v1h-1zM572 813h1v3h-1zM31 824h2v1h-2zM137 824h1v1h-1zM272 824h1v1h-1zM370 824h2v1h-2zM380 824h1v1h-1zM408 824h2v1h-2zM411 824h1v1h-1zM538 824h10v1h-10zM1008 824h1v1h-1zM1012 824h1v1h-1zM1341 824h4v1h-4zM1348 824h3v1h-3zM1361 824h3v1h-3zM1378 824h3v1h-3zM1411 824h2v1h-2zM42 834h1v1h-1zM624 834h1v1h-1zM630 834h2v1h-2zM643 834h2v1h-2zM674 834h1v2h-1zM727 834h1v1h-1zM742 834h1v1h-1zM1038 834h1v1h-1zM1104 834h1v1h-1zM1112 834h2v1h-2zM1294 834h1v1h-1zM1304 834h2v1h-2zM1307 834h2v1h-2zM1317 834h1v1h-1zM1330 834h1v1h-1zM1421 834h1v2h-1zM48 843h1v1h-1zM215 843h1v1h-1zM221 843h1v1h-1zM612 843h2v1h-2zM752 843h1v1h-1zM756 843h1v1h-1zM1046 843h1v1h-1zM1095 843h2v1h-2zM1135 843h1v1h-1zM1444 843h1v1h-1zM10 816h1v1h-1zM21 816h1v1h-1zM98 816h9v1h-9zM170 816h2v1h-2zM363 816h1v1h-1zM530 816h1v1h-1zM558 816h1v1h-1zM1 835h1v1h-1zM231 835h4v1h-4zM604 835h1v1h-1zM623 835h1v1h-1zM632 835h2v1h-2zM639 835h4v1h-4zM725 835h2v1h-2zM743 835h1v1h-1zM1039 835h2v1h-2zM1103 835h1v1h-1zM1114 835h3v1h-3zM1129 835h2v1h-2zM1293 835h1v1h-1zM1306 835h1v1h-1zM1329 835h1v1h-1zM337 802h1v1h-1zM349 801h1v2h-1zM46 840h1v1h-1zM84 840h3v1h-3zM194 840h1v1h-1zM199 840h5v1h-5zM212 839h1v2h-1zM223 840h1v1h-1zM515 839h1v2h-1zM607 839h1v2h-1zM618 840h1v1h-1zM717 840h2v1h-2zM748 840h1v1h-1zM759 840h1v1h-1zM1044 840h1v1h-1zM1133 840h1v1h-1zM1321 839h1v2h-1zM1323 840h1v1h-1zM1423 839h1v2h-1zM1447 840h1v1h-1zM50 846h1v1h-1zM217 846h1v1h-1zM680 846h1v2h-1zM702 846h1v2h-1zM1048 846h1v1h-1zM1087 846h2v1h-2zM1137 846h1v2h-1zM1426 846h3v1h-3zM818 867h1v1h-1zM959 867h1v2h-1zM965 866h1v2h-1zM984 866h1v2h-1zM1144 866h1v3h-1zM1257 867h6v1h-6zM1282 866h1v2h-1zM10 815h3v1h-3zM20 815h1v1h-1zM172 815h3v1h-3zM286 815h1v1h-1zM362 815h1v1h-1zM559 815h1v1h-1zM290 808h2v1h-2zM316 808h1v1h-1zM332 808h1v2h-1zM352 807h1v2h-1zM87 839h2v1h-2zM204 839h3v1h-3zM224 839h1v1h-1zM619 839h1v1h-1zM719 839h1v1h-1zM747 839h1v1h-1zM760 839h1v1h-1zM1100 839h1v1h-1zM1324 839h1v1h-1zM1448 839h1v1h-1zM1457 839h2v1h-2zM1202 894h3v1h-3zM1213 894h2v1h-2zM426 859h1v1h-1zM463 859h2v1h-2zM471 859h2v1h-2zM476 859h3v1h-3zM484 859h1v1h-1zM770 859h2v1h-2zM814 859h1v2h-1zM990 858h1v2h-1zM1142 859h1v4h-1zM1284 858h1v4h-1zM13 814h4v1h-4zM19 814h1v1h-1zM175 814h2v1h-2zM322 814h2v1h-2zM360 814h2v1h-2zM560 814h1v1h-1zM840 877h2v1h-2zM892 877h1v1h-1zM914 877h5v1h-5zM925 877h4v1h-4zM955 877h1v2h-1zM975 877h4v1h-4zM1149 877h1v1h-1zM1243 877h1v1h-1zM466 861h2v1h-2zM481 861h2v1h-2zM815 861h1v2h-1zM962 860h1v2h-1zM988 861h1v1h-1zM819 868h2v1h-2zM1253 868h4v1h-4zM1263 868h5v1h-5zM1280 868h2v1h-2zM829 873h4v1h-4zM895 873h1v1h-1zM907 873h2v1h-2zM957 872h1v2h-1zM968 872h1v2h-1zM1146 872h1v2h-1zM842 878h1v1h-1zM891 878h1v1h-1zM929 878h4v1h-4zM1150 878h1v1h-1zM1177 878h2v1h-2zM1241 878h2v1h-2zM23 819h1v1h-1zM111 819h1v1h-1zM119 819h2v1h-2zM127 819h4v1h-4zM525 819h2v1h-2zM533 819h1v1h-1zM555 819h1v1h-1zM658 819h1v1h-1zM1391 819h1v1h-1zM1397 819h1v1h-1zM1198 891h1v1h-1zM1218 891h1v1h-1zM39 831h1v1h-1zM255 831h8v1h-8zM388 831h3v1h-3zM588 831h3v1h-3zM648 831h2v1h-2zM668 831h2v1h-2zM733 831h4v1h-4zM739 831h1v1h-1zM1021 831h4v1h-4zM1031 831h4v1h-4zM1106 831h2v1h-2zM1297 831h1v1h-1zM1299 831h2v1h-2zM1312 831h2v1h-2zM1332 831h1v1h-1zM431 854h1v1h-1zM441 854h6v1h-6zM489 854h1v1h-1zM492 854h2v1h-2zM508 853h1v2h-1zM768 853h1v2h-1zM780 854h3v1h-3zM797 854h4v1h-4zM804 854h2v1h-2zM811 853h1v2h-1zM994 853h1v2h-1zM336 803h1v2h-1zM350 803h1v2h-1zM292 807h3v1h-3zM315 807h1v1h-1zM333 807h1v1h-1zM843 879h1v1h-1zM890 879h1v1h-1zM933 879h4v1h-4zM1151 879h1v1h-1zM1173 879h4v1h-4zM1179 879h2v1h-2zM1226 879h3v1h-3zM1239 879h2v1h-2zM289 809h1v2h-1zM318 810h1v1h-1zM331 810h1v1h-1zM353 809h1v2h-1zM567 810h2v1h-2zM570 810h1v1h-1zM885 883h1v1h-1zM944 883h2v1h-2zM948 883h2v1h-2zM1154 883h3v1h-3zM1186 883h1v1h-1zM1223 883h1v2h-1zM849 886h1v1h-1zM871 886h2v1h-2zM1191 886h1v1h-1zM343 798h1v1h-1zM347 797h1v2h-1zM429 856h1v1h-1zM459 856h2v1h-2zM487 856h1v1h-1zM496 856h2v1h-2zM776 856h2v1h-2zM992 856h1v1h-1zM297 805h14v1h-14zM335 805h1v1h-1zM351 805h1v2h-1zM55 849h1v1h-1zM700 849h1v1h-1zM1050 849h3v1h-3zM1061 849h1v1h-1zM1077 849h4v1h-4zM823 870h1v1h-1zM898 870h3v1h-3zM982 870h1v1h-1zM1249 870h1v1h-1zM1270 870h2v1h-2zM1277 870h2v1h-2zM51 847h2v1h-2zM78 847h1v1h-1zM218 847h1v1h-1zM1057 847h2v1h-2zM1084 847h3v1h-3zM185 811h2v1h-2zM319 811h1v1h-1zM329 811h2v1h-2zM354 811h2v1h-2zM564 811h3v1h-3zM857 889h6v1h-6zM867 889h2v1h-2zM1195 889h2v1h-2zM1219 889h1v2h-1zM816 863h1v2h-1zM960 864h1v3h-1zM964 864h1v2h-1zM985 864h1v2h-1zM1143 863h1v3h-1zM1283 862h1v4h-1zM58 851h11v1h-11zM434 851h2v1h-2zM682 851h13v1h-13zM810 851h1v1h-1zM1063 851h2v1h-2zM1071 851h2v1h-2zM1201 893h1v1h-1zM1215 893h1v1h-1zM73 853h2v1h-2zM432 853h1v1h-1zM439 853h2v1h-2zM490 853h2v1h-2zM783 853h2v1h-2zM791 853h6v1h-6zM806 853h2v1h-2zM1066 853h2v1h-2zM826 872h3v1h-3zM896 872h1v1h-1zM905 872h2v1h-2zM1247 872h1v1h-1zM1274 872h1v1h-1zM847 884h1v1h-1zM874 884h5v1h-5zM883 884h2v1h-2zM946 884h2v1h-2zM1187 884h2v1h-2zM817 865h1v2h-1zM465 860h1v1h-1zM468 860h3v1h-3zM479 860h2v1h-2zM483 860h1v1h-1zM989 860h1v1h-1zM863 890h4v1h-4zM1197 890h1v1h-1zM339 800h2v1h-2zM348 799h1v2h-1zM961 862h1v2h-1zM963 862h1v2h-1zM987 862h1v1h-1zM344 797h2v1h-2zM36 827h1v1h-1zM269 827h1v1h-1zM401 827h3v1h-3zM413 827h1v1h-1zM652 827h1v1h-1zM664 827h1v1h-1zM1005 827h1v1h-1zM1015 827h1v1h-1zM1335 827h1v1h-1zM1368 827h2v1h-2zM1372 827h2v1h-2zM1416 827h2v1h-2zM986 863h1v1h-1zM295 806h2v1h-2zM311 806h4v1h-4zM334 806h1v1h-1zM836 875h2v1h-2zM911 875h1v1h-1zM1245 875h1v1h-1zM426 858h2v1h-2zM462 858h1v1h-1zM473 858h3v1h-3zM485 858h1v1h-1zM503 858h4v1h-4zM770 858h1v1h-1zM772 858h2v1h-2zM1199 892h2v1h-2zM1216 892h2v1h-2zM317 809h1v1h-1zM569 809h2v1h-2zM338 801h1v1h-1zM1205 895h4v1h-4zM1211 895h2v1h-2zM341 799h2v1h-2zM1209 896h2v1h-2zM346 796h1v1h-1z" fill="#1e90ff"/></svg><svg class="abs" style="left:0;top:0" width="1700" height="943" font-family='"Liberation Sans", "Noto Sans CJK SC", sans-serif'><line x1="1388.5" y1="333.0" x2="1450.3" y2="423.9" stroke="#ff0000" stroke-width="3.0" shape-rendering="crispEdges"/><polygon points="1455.4,431.3 1445.1,425.0 1453.3,419.4" fill="#ff0000" shape-rendering="crispEdges"/><line x1="1385.0" y1="602.5" x2="1455.5" y2="627.0" stroke="#ff0000" stroke-width="3.0" shape-rendering="crispEdges"/><polygon points="1464.0,630.0 1452.1,630.6 1455.1,622.1" fill="#ff0000" shape-rendering="crispEdges"/><line x1="1365.0" y1="822.0" x2="1452.7" y2="841.1" stroke="#ff0000" stroke-width="3.0" shape-rendering="crispEdges"/><polygon points="1461.5,843.0 1449.8,845.1 1451.7,836.3" fill="#ff0000" shape-rendering="crispEdges"/><rect x="1375" y="376" width="121" height="9" fill="#00ff00"/><rect x="1009" y="219" width="10" height="1" fill="#ff0000"/><rect x="947.5" y="210.5" width="61" height="18" fill="#fff" stroke="#ff0000" stroke-width="1" shape-rendering="crispEdges"/><text x="949.5" y="226" font-size="16.6" fill="#ff0000" textLength="58.5" lengthAdjust="spacingAndGlyphs">1.37502</text><rect x="1385" y="326" width="10" height="1" fill="#ff0000"/><rect x="1323.5" y="317.5" width="61" height="18" fill="#fff" stroke="#ff0000" stroke-width="1" shape-rendering="crispEdges"/><text x="1325.5" y="333" font-size="16.6" fill="#ff0000" textLength="58.5" lengthAdjust="spacingAndGlyphs">1.36455</text><rect x="1201" y="565" width="10" height="1" fill="#ff0000"/><rect x="1210" y="561" width="1" height="5" fill="#ff0000"/><rect x="1139.5" y="556.5" width="61" height="18" fill="#fff" stroke="#ff0000" stroke-width="1" shape-rendering="crispEdges"/><text x="1141.5" y="572" font-size="16.6" fill="#ff0000" textLength="58.5" lengthAdjust="spacingAndGlyphs">1.34117</text><rect x="1179" y="382" width="8" height="1" fill="#ff0000"/><rect x="1186" y="380" width="4" height="4" fill="#ff0000"/><rect x="1187" y="381" width="2" height="2" fill="#fff"/><rect x="1189.5" y="370.5" width="73" height="24" fill="#fff" stroke="#ff0000" stroke-width="1" shape-rendering="crispEdges"/><text x="1191" y="391" font-size="22.4" fill="#ff0000" textLength="71.5" lengthAdjust="spacingAndGlyphs">1.35907</text></svg><svg class="abs" style="left:0;top:0" width="1700" height="943" font-family='"Liberation Sans", "Noto Sans CJK SC", sans-serif' font-size="9.8" shape-rendering="crispEdges"><rect x="0" y="26" width="1654" height="1" fill="#000"/><rect x="1653" y="26" width="1" height="902" fill="#000"/><rect x="0" y="579" width="1654" height="1" fill="#000"/><rect x="0" y="580" width="1700" height="1" fill="#fff"/><rect x="0" y="581" width="1654" height="1" fill="#000"/><rect x="0" y="751" width="1654" height="1" fill="#000"/><rect x="0" y="752" width="1700" height="1" fill="#fff"/><rect x="0" y="753" width="1654" height="1" fill="#000"/><rect x="0" y="927" width="1654" height="1" fill="#000"/><rect x="1699" y="24" width="1" height="919" fill="#e0e0e0"/><polygon points="1464,27 1475,27 1469.5,32.5" fill="#c0c0c0"/><rect x="1654" y="48" width="2" height="1" fill="#000"/><rect x="1654" y="81" width="2" height="1" fill="#000"/><rect x="1654" y="114" width="2" height="1" fill="#000"/><rect x="1654" y="147" width="2" height="1" fill="#000"/><rect x="1654" y="180" width="2" height="1" fill="#000"/><rect x="1654" y="213" width="2" height="1" fill="#000"/><rect x="1654" y="246" width="2" height="1" fill="#000"/><rect x="1654" y="279" width="2" height="1" fill="#000"/><rect x="1654" y="312" width="2" height="1" fill="#000"/><rect x="1654" y="345" width="2" height="1" fill="#000"/><rect x="1654" y="378" width="2" height="1" fill="#000"/><rect x="1654" y="411" width="2" height="1" fill="#000"/><rect x="1654" y="444" width="2" height="1" fill="#000"/><rect x="1654" y="477" width="2" height="1" fill="#000"/><rect x="1654" y="510" width="2" height="1" fill="#000"/><rect x="1654" y="543" width="2" height="1" fill="#000"/><rect x="1654" y="576" width="2" height="1" fill="#000"/><rect x="1654" y="583" width="2" height="1" fill="#000"/><rect x="1654" y="636" width="2" height="1" fill="#000"/><rect x="1654" y="749" width="2" height="1" fill="#000"/><rect x="1654" y="754" width="2" height="1" fill="#000"/><rect x="1654" y="926" width="2" height="1" fill="#000"/><rect x="58" y="928" width="1" height="3" fill="#000"/><rect x="122" y="928" width="1" height="3" fill="#000"/><rect x="186" y="928" width="1" height="3" fill="#000"/><rect x="250" y="928" width="1" height="3" fill="#000"/><rect x="314" y="928" width="1" height="3" fill="#000"/><rect x="378" y="928" width="1" height="3" fill="#000"/><rect x="442" y="928" width="1" height="3" fill="#000"/><rect x="506" y="928" width="1" height="3" fill="#000"/><rect x="570" y="928" width="1" height="3" fill="#000"/><rect x="634" y="928" width="1" height="3" fill="#000"/><rect x="698" y="928" width="1" height="3" fill="#000"/><rect x="762" y="928" width="1" height="3" fill="#000"/><rect x="826" y="928" width="1" height="3" fill="#000"/><rect x="890" y="928" width="1" height="3" fill="#000"/><rect x="954" y="928" width="1" height="3" fill="#000"/><rect x="1018" y="928" width="1" height="3" fill="#000"/><rect x="1082" y="928" width="1" height="3" fill="#000"/><rect x="1146" y="928" width="1" height="3" fill="#000"/><rect x="1210" y="928" width="1" height="3" fill="#000"/><rect x="1274" y="928" width="1" height="3" fill="#000"/><rect x="1338" y="928" width="1" height="3" fill="#000"/><rect x="1402" y="928" width="1" height="3" fill="#000"/><polygon points="0,34 0,38 5,38" fill="#000"/><g shape-rendering="auto" fill="#000" text-rendering="geometricPrecision"><text x="1659.3" y="52" textLength="33.2" lengthAdjust="spacingAndGlyphs">1.39175</text><text x="1659.3" y="85" textLength="33.2" lengthAdjust="spacingAndGlyphs">1.38855</text><text x="1659.3" y="118" textLength="33.2" lengthAdjust="spacingAndGlyphs">1.38530</text><text x="1659.3" y="151" textLength="33.2" lengthAdjust="spacingAndGlyphs">1.38205</text><text x="1659.3" y="184" textLength="33.2" lengthAdjust="spacingAndGlyphs">1.37885</text><text x="1659.3" y="217" textLength="33.2" lengthAdjust="spacingAndGlyphs">1.37560</text><text x="1659.3" y="250" textLength="33.2" lengthAdjust="spacingAndGlyphs">1.37235</text><text x="1659.3" y="283" textLength="33.2" lengthAdjust="spacingAndGlyphs">1.36915</text><text x="1659.3" y="316" textLength="33.2" lengthAdjust="spacingAndGlyphs">1.36590</text><text x="1659.3" y="349" textLength="33.2" lengthAdjust="spacingAndGlyphs">1.36265</text><text x="1659.3" y="382" textLength="33.2" lengthAdjust="spacingAndGlyphs">1.35945</text><text x="1659.3" y="415" textLength="33.2" lengthAdjust="spacingAndGlyphs">1.35620</text><text x="1659.3" y="448" textLength="33.2" lengthAdjust="spacingAndGlyphs">1.35295</text><text x="1659.3" y="481" textLength="33.2" lengthAdjust="spacingAndGlyphs">1.34970</text><text x="1659.3" y="514" textLength="33.2" lengthAdjust="spacingAndGlyphs">1.34650</text><text x="1659.3" y="547" textLength="33.2" lengthAdjust="spacingAndGlyphs">1.34325</text><text x="1659.3" y="580" textLength="33.2" lengthAdjust="spacingAndGlyphs">1.34000</text><text x="1657" y="592" textLength="37.5" lengthAdjust="spacingAndGlyphs">0.003315</text><text x="1657" y="640" textLength="18.0" lengthAdjust="spacingAndGlyphs">0.00</text><text x="1657" y="748" textLength="40.5" lengthAdjust="spacingAndGlyphs">-0.007112</text><text x="1657.3" y="764" textLength="14.5" lengthAdjust="spacingAndGlyphs">100</text><text x="1656" y="793" textLength="9.7" lengthAdjust="spacingAndGlyphs">80</text><text x="1656" y="844" textLength="9.7" lengthAdjust="spacingAndGlyphs">50</text><text x="1656" y="905" textLength="9.7" lengthAdjust="spacingAndGlyphs">15</text><text x="1657.3" y="924" textLength="4.8" lengthAdjust="spacingAndGlyphs">0</text><text x="-6.5" y="940" textLength="53.6" lengthAdjust="spacingAndGlyphs">25 Aug 2021</text><text x="57.5" y="940" textLength="56.2" lengthAdjust="spacingAndGlyphs">26 Aug 16:00</text><text x="121.5" y="940" textLength="56.2" lengthAdjust="spacingAndGlyphs">30 Aug 00:00</text><text x="185.5" y="940" textLength="56.2" lengthAdjust="spacingAndGlyphs">31 Aug 08:00</text><text x="249.5" y="940" textLength="49.9" lengthAdjust="spacingAndGlyphs">1 Sep 16:00</text><text x="313.5" y="940" textLength="49.9" lengthAdjust="spacingAndGlyphs">3 Sep 00:00</text><text x="377.5" y="940" textLength="49.9" lengthAdjust="spacingAndGlyphs">6 Sep 08:00</text><text x="441.5" y="940" textLength="49.9" lengthAdjust="spacingAndGlyphs">7 Sep 16:00</text><text x="505.5" y="940" textLength="49.9" lengthAdjust="spacingAndGlyphs">9 Sep 00:00</text><text x="569.5" y="940" textLength="56.8" lengthAdjust="spacingAndGlyphs">10 Sep 08:00</text><text x="633.5" y="940" textLength="56.8" lengthAdjust="spacingAndGlyphs">13 Sep 16:00</text><text x="697.5" y="940" textLength="56.8" lengthAdjust="spacingAndGlyphs">15 Sep 00:00</text><text x="761.5" y="940" textLength="56.8" lengthAdjust="spacingAndGlyphs">16 Sep 08:00</text><text x="825.5" y="940" textLength="56.8" lengthAdjust="spacingAndGlyphs">17 Sep 16:00</text><text x="889.5" y="940" textLength="56.8" lengthAdjust="spacingAndGlyphs">21 Sep 00:00</text><text x="953.5" y="940" textLength="56.8" lengthAdjust="spacingAndGlyphs">22 Sep 08:00</text><text x="1017.5" y="940" textLength="56.8" lengthAdjust="spacingAndGlyphs">23 Sep 16:00</text><text x="1081.5" y="940" textLength="56.8" lengthAdjust="spacingAndGlyphs">27 Sep 00:00</text><text x="1145.5" y="940" textLength="56.8" lengthAdjust="spacingAndGlyphs">28 Sep 08:00</text><text x="1209.5" y="940" textLength="56.8" lengthAdjust="spacingAndGlyphs">29 Sep 16:00</text><text x="1273.5" y="940" textLength="47.9" lengthAdjust="spacingAndGlyphs">1 Oct 00:00</text><text x="1337.5" y="940" textLength="47.9" lengthAdjust="spacingAndGlyphs">4 Oct 08:00</text><text x="1401.5" y="940" textLength="47.9" lengthAdjust="spacingAndGlyphs">5 Oct 16:00</text><text x="9" y="38" textLength="58.0" lengthAdjust="spacingAndGlyphs">GBPUSD-,H4</text><text x="72" y="38" textLength="141.3" lengthAdjust="spacingAndGlyphs">1.35879 1.35907 1.35793 1.35810</text><text x="-0.5" y="594" textLength="146.5" lengthAdjust="spacingAndGlyphs">MACD(12,26,9) 0.000774 0.001517</text><text x="-3.3" y="766" textLength="69.7" lengthAdjust="spacingAndGlyphs">RSI(14) 50.4248</text></g><g text-rendering="geometricPrecision"><rect x="1655" y="326" width="41" height="11" fill="#ff0000"/><text x="1659.3" y="335" textLength="33.2" lengthAdjust="spacingAndGlyphs" fill="#fff">1.36396</text><rect x="1655" y="353" width="41" height="11" fill="#ff4500"/><text x="1659.3" y="362" textLength="33.2" lengthAdjust="spacingAndGlyphs" fill="#fff">1.36132</text><rect x="1655" y="376" width="41" height="11" fill="#32cd32"/><text x="1659.3" y="385" textLength="33.2" lengthAdjust="spacingAndGlyphs" fill="#fff">1.35907</text><rect x="1655" y="387" width="41" height="11" fill="#000000"/><text x="1659.3" y="396" textLength="33.2" lengthAdjust="spacingAndGlyphs" fill="#fff">1.35810</text><rect x="1655" y="415" width="41" height="11" fill="#0000ff"/><text x="1659.3" y="424" textLength="33.2" lengthAdjust="spacingAndGlyphs" fill="#fff">1.35526</text><rect x="1655" y="448" width="41" height="11" fill="#0000ff"/><text x="1659.3" y="457" textLength="33.2" lengthAdjust="spacingAndGlyphs" fill="#fff">1.35203</text></g></svg>
<div class="abs" style="left:0;top:46px;width:216px;height:57px;background:#fff"></div><div class="abs" style="left:0;top:46px;width:49px;height:25px;background:linear-gradient(#5a5aff,#3a30dc);border-top:1px solid #0a0ac0;box-sizing:border-box"></div><div class="abs" style="left:164px;top:46px;width:52px;height:25px;background:linear-gradient(#5a5aff,#3a30dc);border-top:1px solid #0a0ac0;box-sizing:border-box"></div><div class="abs" style="left:0;top:70px;width:106px;height:33px;background:linear-gradient(#3a30dc,#0000aa)"></div><div class="abs" style="left:108px;top:70px;width:108px;height:33px;background:linear-gradient(#3a30dc,#0000aa)"></div><div class="abs" style="left:1px;top:70px;width:44px;height:1px;background:#8080f0"></div><div class="abs" style="left:168px;top:70px;width:44px;height:1px;background:#8080f0"></div><div class="abs" style="left:51px;top:46px;width:112px;height:22px;background:#fff;border:1px solid #a0a0a0;box-sizing:border-box"></div><div class="abs" style="left:52px;top:47px;width:20px;height:20px;background:linear-gradient(#f4f4f4 0%,#e8e8e8 45%,#d4d4d4 50%,#d0d0d0 100%);border-right:1px solid #a0a0a0;box-sizing:border-box"></div><div class="abs" style="left:141px;top:47px;width:21px;height:20px;background:linear-gradient(#f4f4f4 0%,#e8e8e8 45%,#d4d4d4 50%,#d0d0d0 100%);border-left:1px solid #a0a0a0;box-sizing:border-box"></div><svg class="abs" style="left:0;top:40px" width="220" height="66" viewBox="0 40 220 66" font-family='"Liberation Sans", "Noto Sans CJK SC", sans-serif'><polygon points="59,55 64.5,55 61.7,58.5" fill="#4060c8"/><polygon points="148,58 154,58 151,54.5" fill="#4060c8"/><text x="9.5" y="62" font-size="12.2" fill="#fff" textLength="25.5" lengthAdjust="spacingAndGlyphs">SELL</text><text x="177.5" y="62" font-size="12.2" fill="#fff" textLength="23.5" lengthAdjust="spacingAndGlyphs">BUY</text><text x="113" y="61" font-size="12.2" fill="#000" textLength="24" lengthAdjust="spacingAndGlyphs">1.00</text><text x="17" y="97.7" font-size="12.2" font-weight="bold" fill="#fff" textLength="24" lengthAdjust="spacingAndGlyphs">1.35</text><text x="127" y="97.7" font-size="12.2" font-weight="bold" fill="#fff" textLength="24" lengthAdjust="spacingAndGlyphs">1.35</text><text x="44" y="98" font-size="33" fill="#fff" textLength="36" lengthAdjust="spacingAndGlyphs">81</text><text x="155" y="98" font-size="33" fill="#fff" textLength="35" lengthAdjust="spacingAndGlyphs">83</text><text x="83.5" y="82" font-size="12" fill="#fff" stroke="#fff" stroke-width=".35" textLength="8" lengthAdjust="spacingAndGlyphs">0</text><text x="194.5" y="82" font-size="12" fill="#fff" stroke="#fff" stroke-width=".35" textLength="8" lengthAdjust="spacingAndGlyphs">8</text></svg>
</body></html>
